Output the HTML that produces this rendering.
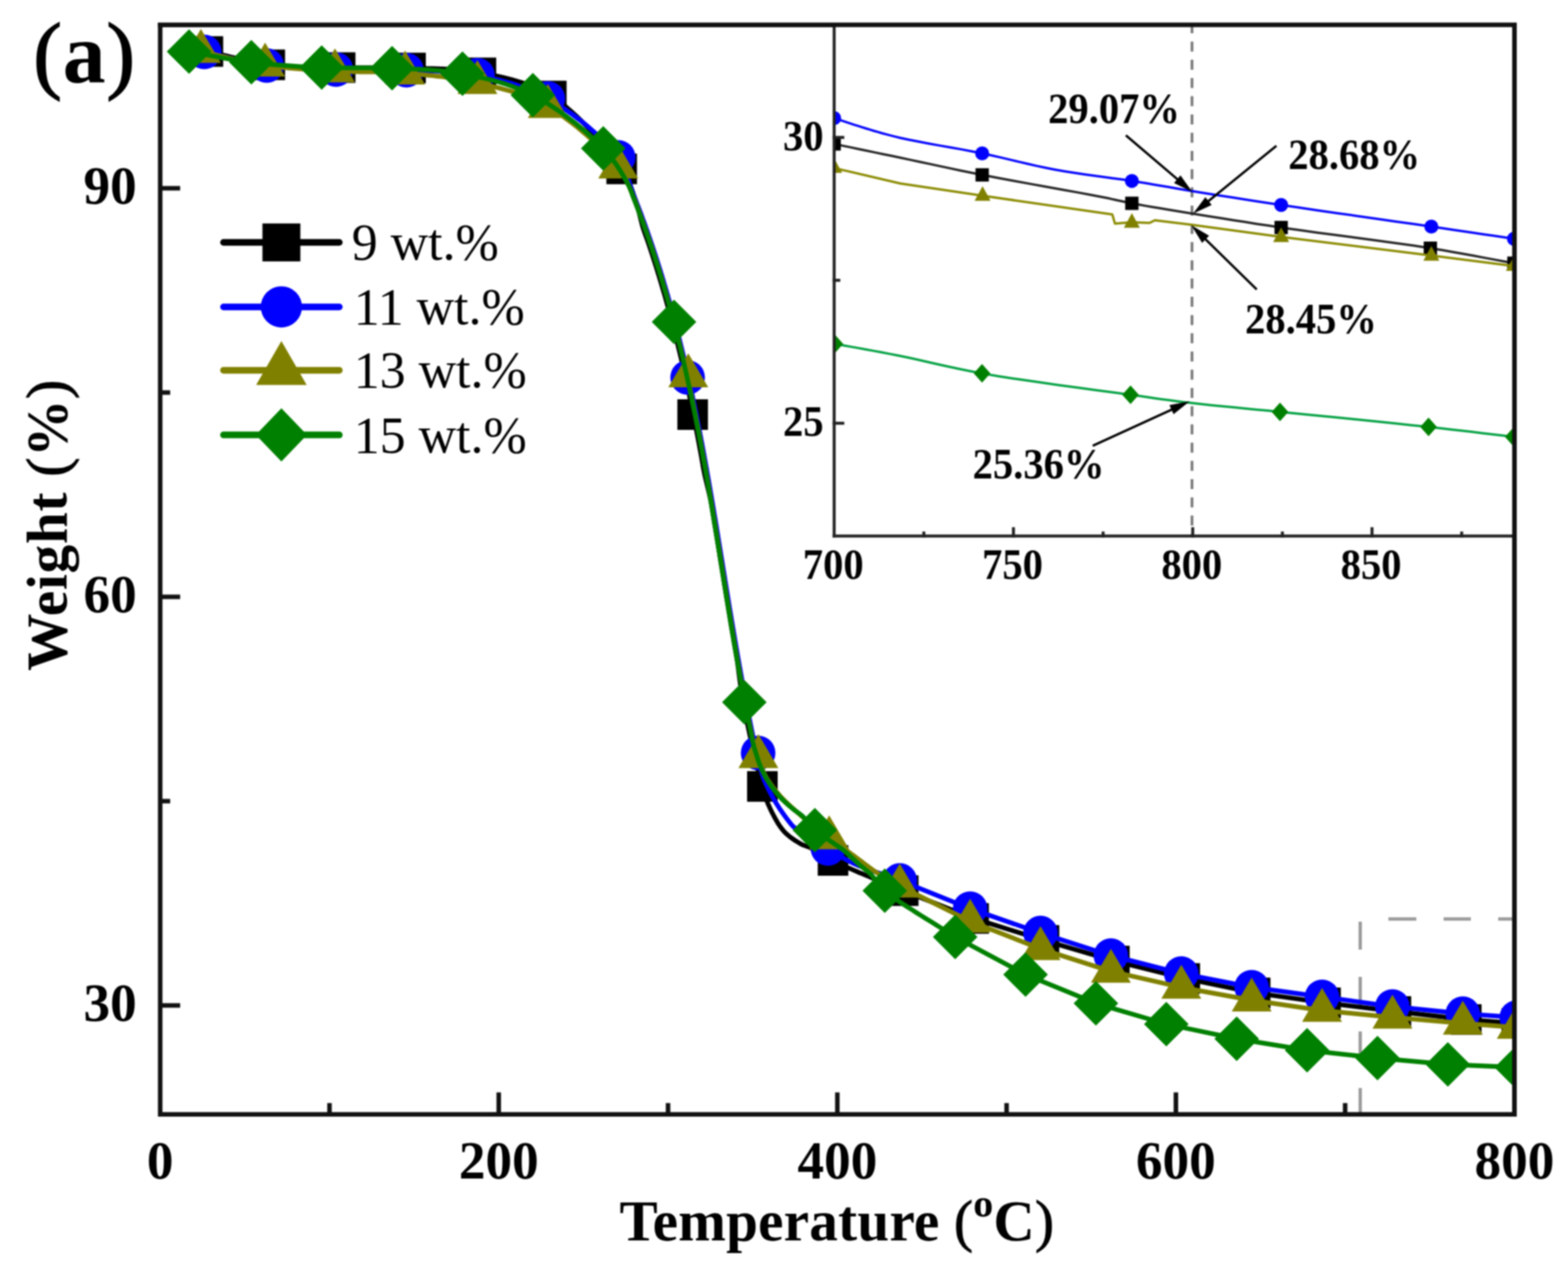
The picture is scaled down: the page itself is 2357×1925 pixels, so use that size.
<!DOCTYPE html><html><head><meta charset="utf-8"><style>
html,body{margin:0;padding:0;background:#fff;}
svg{display:block;filter:blur(0.8px);}
text{font-family:"Liberation Serif","Times New Roman",serif;}
</style></head><body>
<svg xmlns="http://www.w3.org/2000/svg" width="2357" height="1925" viewBox="0 0 2357 1925">
<rect width="2357" height="1925" fill="#fff"/>
<defs><clipPath id="cm"><rect x="240.8" y="37.3" width="2035.7" height="1637.3"/></clipPath>
<clipPath id="ci"><rect x="1253.9" y="36.8" width="1022.6" height="768.7"/></clipPath></defs>
<g stroke="#9a9a9a" stroke-width="5" fill="none">
<line x1="2044.7" y1="1385" x2="2044.7" y2="1427"/>
<line x1="2044.7" y1="1468" x2="2044.7" y2="1510"/>
<line x1="2044.7" y1="1550" x2="2044.7" y2="1592"/>
<line x1="2044.7" y1="1635" x2="2044.7" y2="1673"/>
<line x1="2087" y1="1381" x2="2129" y2="1381"/>
<line x1="2170" y1="1381" x2="2211" y2="1381"/>
<line x1="2252" y1="1381" x2="2275" y2="1381"/>
</g>
<g clip-path="url(#cm)" fill="none" stroke-width="7" stroke-linejoin="round" stroke-linecap="round">
<polyline points="312.5,77.4 318.3,78.7 324.1,80.0 329.8,81.4 335.6,82.8 341.3,84.2 347.1,85.6 352.8,87.0 358.6,88.4 364.3,89.7 370.1,91.0 375.9,92.3 381.8,93.5 387.6,94.6 393.5,95.6 399.5,96.6 405.5,97.4 411.9,98.1 418.3,98.8 424.8,99.3 431.4,99.8 438.0,100.1 444.6,100.4 451.2,100.6 457.9,100.8 464.6,100.9 471.3,101.1 478.0,101.1 484.7,101.2 491.3,101.3 498.0,101.4 504.7,101.5 511.3,101.6 517.9,101.7 524.5,101.8 531.1,101.8 537.8,101.8 544.4,101.8 551.0,101.8 557.6,101.8 564.2,101.7 570.8,101.7 577.4,101.6 584.0,101.6 590.7,101.7 597.3,101.7 603.9,101.8 610.5,102.0 617.1,102.2 623.7,102.4 630.3,102.6 637.0,102.8 643.6,102.9 650.3,103.1 656.9,103.3 663.5,103.5 670.2,103.8 676.8,104.1 683.4,104.5 690.0,105.0 696.6,105.7 703.2,106.4 709.8,107.3 716.4,108.3 722.9,109.5 729.6,110.8 736.3,112.2 743.1,113.5 749.9,115.0 756.6,116.5 763.4,118.1 770.1,119.9 776.8,121.8 783.5,123.8 790.2,126.1 796.8,128.5 803.3,131.1 809.8,134.0 816.2,137.2 822.5,140.6 828.7,144.3 836.0,149.2 843.5,154.7 851.0,160.8 858.6,167.3 866.2,174.3 873.7,181.6 881.1,189.1 888.4,196.7 895.4,204.5 902.2,212.2 908.7,219.8 914.8,227.3 920.5,234.5 925.7,241.4 930.4,247.8 934.5,253.8 936.6,257.0 938.5,260.2 940.3,263.2 941.9,266.2 943.4,269.2 944.7,272.1 946.0,274.9 947.1,277.7 948.2,280.5 949.2,283.3 950.2,286.0 951.2,288.8 952.1,291.6 953.0,294.3 954.0,297.2 955.0,300.0 955.9,302.7 956.8,305.4 957.6,308.2 958.4,311.0 959.2,313.8 959.9,316.5 960.7,319.3 961.3,322.1 962.0,324.8 962.7,327.5 963.3,330.2 964.0,332.8 964.6,335.3 965.3,337.7 965.9,340.1 966.6,342.3 967.1,343.9 967.6,345.4 968.1,346.8 968.6,348.2 969.0,349.6 969.5,351.0 970.0,352.3 970.4,353.6 970.9,354.9 971.4,356.1 971.8,357.4 972.3,358.7 972.8,360.0 973.2,361.3 973.7,362.6 974.1,363.9 974.6,365.3 975.1,366.6 975.5,368.0 976.0,369.3 976.4,370.7 976.9,372.0 977.3,373.4 977.8,374.7 978.2,376.1 978.7,377.4 979.1,378.8 979.6,380.1 980.0,381.5 980.5,382.8 980.9,384.2 981.3,385.5 981.8,386.9 982.2,388.2 982.6,389.6 983.1,390.9 983.5,392.3 983.9,393.6 984.4,395.0 984.8,396.3 985.2,397.7 985.7,399.0 986.1,400.4 986.5,401.7 986.9,403.1 987.4,404.4 987.8,405.8 988.2,407.1 988.6,408.5 989.0,409.8 989.4,411.2 989.9,412.5 990.3,413.9 990.7,415.2 991.1,416.6 991.5,417.9 991.9,419.3 992.3,420.6 992.7,422.0 993.1,423.3 993.5,424.7 993.9,426.0 994.3,427.4 994.7,428.7 995.1,430.1 995.5,431.4 995.9,432.8 996.3,434.1 996.7,435.5 997.1,436.8 997.5,438.2 997.9,439.5 998.3,440.9 998.7,442.2 999.1,443.6 999.5,444.9 999.9,446.3 1000.2,447.6 1000.6,449.0 1001.0,450.3 1001.4,451.7 1001.8,453.0 1002.1,454.4 1002.5,455.7 1002.9,457.1 1003.3,458.4 1003.7,459.8 1004.0,461.1 1004.4,462.5 1004.8,463.8 1005.1,465.2 1005.5,466.5 1005.9,467.9 1006.2,469.2 1006.6,470.6 1007.0,471.9 1007.3,473.3 1007.7,474.6 1008.1,476.0 1008.4,477.3 1008.8,478.7 1009.1,480.0 1009.5,481.4 1009.9,482.7 1010.2,484.1 1010.6,485.4 1010.9,486.8 1011.3,488.1 1011.6,489.5 1012.0,490.8 1012.3,492.2 1012.7,493.5 1013.0,494.9 1013.4,496.2 1013.7,497.6 1014.1,498.9 1014.4,500.3 1014.8,501.6 1015.1,503.0 1015.4,504.3 1015.8,505.7 1016.1,507.0 1016.5,508.4 1016.8,509.7 1017.1,511.1 1017.5,512.4 1017.8,513.8 1018.1,515.1 1018.5,516.5 1018.8,517.8 1019.1,519.2 1019.5,520.5 1019.8,521.9 1020.1,523.2 1020.5,524.6 1020.8,525.9 1021.1,527.3 1021.4,528.6 1021.8,530.0 1022.1,531.3 1022.4,532.7 1022.7,534.0 1023.1,535.4 1023.4,536.7 1023.7,538.1 1024.0,539.4 1024.3,540.8 1024.6,542.1 1025.0,543.5 1025.3,544.8 1025.6,546.2 1025.9,547.5 1026.2,548.9 1026.5,550.2 1026.8,551.6 1027.1,552.9 1027.5,554.3 1027.8,555.6 1028.1,557.0 1028.4,558.3 1028.7,559.7 1029.0,561.0 1029.3,562.4 1029.6,563.7 1029.9,565.1 1030.2,566.4 1030.5,567.8 1030.8,569.1 1031.1,570.5 1031.4,571.8 1031.7,573.2 1032.0,574.5 1032.3,575.9 1032.6,577.2 1032.9,578.6 1033.2,579.9 1033.5,581.3 1033.8,582.6 1034.0,584.0 1034.3,585.3 1034.6,586.7 1034.9,588.0 1035.2,589.4 1035.5,590.7 1035.8,592.1 1036.1,593.4 1036.4,594.8 1036.6,596.1 1036.9,597.5 1037.2,598.8 1037.5,600.2 1037.8,601.5 1038.1,602.9 1038.3,604.2 1038.6,605.6 1038.9,606.9 1039.2,608.3 1039.5,609.6 1039.7,611.0 1040.0,612.3 1040.3,613.7 1040.6,615.0 1040.8,616.4 1041.1,617.7 1041.4,619.1 1041.7,620.4 1041.9,621.8 1042.2,623.1 1042.5,624.5 1042.8,625.8 1043.0,627.2 1043.3,628.5 1043.6,629.9 1043.8,631.2 1044.1,632.6 1044.4,633.9 1044.6,635.3 1044.9,636.6 1045.2,638.0 1045.4,639.3 1045.7,640.7 1046.0,642.0 1046.2,643.4 1046.5,644.7 1046.7,646.1 1047.0,647.4 1047.3,648.8 1047.5,650.1 1047.8,651.5 1048.0,652.8 1048.3,654.2 1048.6,655.5 1048.8,656.9 1049.1,658.2 1049.3,659.6 1049.6,660.9 1049.8,662.3 1050.1,663.6 1050.4,665.0 1050.6,666.3 1050.9,667.7 1051.1,669.0 1051.4,670.4 1051.6,671.7 1051.9,673.1 1052.1,674.4 1052.4,675.8 1052.6,677.1 1052.9,678.5 1053.1,679.8 1053.4,681.2 1053.6,682.5 1053.9,683.9 1054.1,685.2 1054.4,686.6 1054.6,687.9 1054.8,689.3 1055.1,690.6 1055.3,691.9 1055.5,693.2 1055.7,694.5 1056.0,695.7 1056.2,697.0 1056.4,698.3 1056.6,699.6 1056.8,700.9 1057.1,702.3 1057.3,703.6 1057.6,705.1 1057.9,706.5 1058.2,708.0 1058.5,709.6 1059.0,711.9 1059.5,714.3 1060.1,717.0 1060.7,719.7 1061.4,722.5 1062.1,725.3 1062.8,728.2 1063.5,731.2 1064.2,734.1 1064.9,737.0 1065.6,739.8 1066.2,742.6 1066.9,745.4 1067.4,748.0 1068.0,750.4 1068.5,752.8 1068.8,754.3 1069.0,755.8 1069.3,757.3 1069.6,758.7 1069.8,760.0 1070.0,761.4 1070.2,762.7 1070.4,764.0 1070.6,765.3 1070.8,766.6 1071.0,767.9 1071.2,769.1 1071.4,770.4 1071.6,771.7 1071.9,773.0 1072.1,774.4 1072.3,775.7 1072.5,777.1 1072.8,778.4 1073.0,779.8 1073.2,781.1 1073.4,782.5 1073.6,783.8 1073.9,785.2 1074.1,786.5 1074.3,787.9 1074.5,789.2 1074.8,790.6 1075.0,791.9 1075.2,793.3 1075.4,794.6 1075.6,796.0 1075.9,797.3 1076.1,798.7 1076.3,800.0 1076.5,801.4 1076.8,802.7 1077.0,804.1 1077.2,805.4 1077.4,806.8 1077.6,808.1 1077.9,809.5 1078.1,810.8 1078.3,812.2 1078.5,813.5 1078.7,814.9 1079.0,816.2 1079.2,817.6 1079.4,818.9 1079.6,820.3 1079.8,821.6 1080.1,823.0 1080.3,824.3 1080.5,825.7 1080.7,827.0 1080.9,828.4 1081.2,829.7 1081.4,831.1 1081.6,832.4 1081.8,833.8 1082.0,835.1 1082.2,836.5 1082.5,837.8 1082.7,839.2 1082.9,840.5 1083.1,841.9 1083.3,843.2 1083.6,844.6 1083.8,845.9 1084.0,847.3 1084.2,848.6 1084.4,850.0 1084.6,851.3 1084.9,852.7 1085.1,854.0 1085.3,855.4 1085.5,856.7 1085.7,858.1 1086.0,859.4 1086.2,860.8 1086.4,862.1 1086.6,863.5 1086.8,864.8 1087.1,866.2 1087.3,867.5 1087.5,868.9 1087.7,870.2 1087.9,871.6 1088.1,872.9 1088.4,874.3 1088.6,875.6 1088.8,877.0 1089.0,878.3 1089.2,879.7 1089.5,881.0 1089.7,882.4 1089.9,883.7 1090.1,885.1 1090.3,886.4 1090.6,887.8 1090.8,889.1 1091.0,890.5 1091.2,891.8 1091.4,893.2 1091.7,894.5 1091.9,895.9 1092.1,897.2 1092.3,898.6 1092.5,899.9 1092.8,901.3 1093.0,902.6 1093.2,904.0 1093.4,905.3 1093.6,906.7 1093.9,908.0 1094.1,909.4 1094.3,910.7 1094.5,912.1 1094.7,913.4 1095.0,914.8 1095.2,916.1 1095.4,917.5 1095.6,918.8 1095.9,920.2 1096.1,921.5 1096.3,922.9 1096.5,924.2 1096.8,925.6 1097.0,926.9 1097.2,928.3 1097.4,929.6 1097.6,931.0 1097.9,932.3 1098.1,933.7 1098.3,935.0 1098.5,936.4 1098.8,937.7 1099.0,939.1 1099.2,940.4 1099.4,941.8 1099.7,943.1 1099.9,944.5 1100.1,945.8 1100.4,947.2 1100.6,948.5 1100.8,949.9 1101.0,951.2 1101.3,952.6 1101.5,953.9 1101.7,955.3 1102.0,956.6 1102.2,958.0 1102.4,959.3 1102.6,960.7 1102.9,962.0 1103.1,963.4 1103.3,964.7 1103.6,966.1 1103.8,967.4 1104.0,968.8 1104.3,970.1 1104.5,971.4 1104.7,972.7 1104.9,974.0 1105.2,975.3 1105.4,976.5 1105.6,977.8 1105.9,979.1 1106.1,980.4 1106.3,981.7 1106.6,983.1 1106.8,984.4 1107.0,985.8 1107.3,987.3 1107.5,988.8 1107.8,990.4 1108.1,992.7 1108.5,995.2 1108.9,997.8 1109.2,1000.4 1109.6,1003.1 1110.0,1005.9 1110.3,1008.8 1110.7,1011.7 1111.1,1014.6 1111.5,1017.6 1111.9,1020.5 1112.3,1023.5 1112.7,1026.4 1113.1,1029.3 1113.6,1032.2 1114.0,1035.0 1114.4,1037.8 1114.9,1040.6 1115.4,1043.4 1115.8,1046.2 1116.3,1049.0 1116.8,1051.8 1117.3,1054.6 1117.7,1057.4 1118.2,1060.2 1118.8,1063.0 1119.3,1065.8 1119.8,1068.6 1120.3,1071.4 1120.9,1074.3 1121.4,1077.1 1122.0,1080.0 1122.6,1083.1 1123.2,1086.1 1123.9,1089.2 1124.5,1092.3 1125.2,1095.4 1125.9,1098.5 1126.5,1101.7 1127.2,1104.8 1127.9,1107.9 1128.6,1111.1 1129.3,1114.2 1130.1,1117.4 1130.8,1120.5 1131.5,1123.7 1132.3,1126.9 1133.0,1130.0 1133.8,1133.2 1134.5,1136.6 1135.3,1139.9 1136.1,1143.3 1137.0,1146.7 1137.8,1150.1 1138.6,1153.5 1139.4,1156.9 1140.3,1160.2 1141.1,1163.5 1141.9,1166.8 1142.8,1170.0 1143.6,1173.1 1144.4,1176.1 1145.2,1179.0 1146.0,1181.8 1146.6,1183.8 1147.1,1185.7 1147.6,1187.5 1148.1,1189.3 1148.6,1191.0 1149.1,1192.7 1149.6,1194.4 1150.1,1196.1 1150.6,1197.7 1151.2,1199.3 1151.7,1201.0 1152.3,1202.6 1153.0,1204.3 1153.7,1206.0 1154.4,1207.8 1155.2,1209.6 1156.3,1211.9 1157.4,1214.4 1158.6,1216.9 1159.8,1219.5 1161.1,1222.1 1162.5,1224.7 1163.9,1227.4 1165.3,1230.0 1166.8,1232.6 1168.3,1235.2 1169.8,1237.7 1171.4,1240.1 1173.0,1242.5 1174.7,1244.7 1176.3,1246.8 1178.0,1248.8 1179.4,1250.4 1180.9,1251.9 1182.5,1253.3 1184.1,1254.7 1185.7,1256.1 1187.3,1257.4 1189.0,1258.7 1190.7,1259.9 1192.3,1261.0 1194.0,1262.2 1195.6,1263.2 1197.3,1264.3 1198.9,1265.2 1200.4,1266.2 1201.9,1267.1 1203.4,1267.9 1204.4,1268.5 1205.4,1269.0 1206.3,1269.4 1207.3,1269.8 1208.2,1270.2 1209.1,1270.5 1209.9,1270.8 1210.8,1271.1 1211.7,1271.5 1212.6,1271.8 1213.5,1272.1 1214.5,1272.4 1215.5,1272.8 1216.5,1273.2 1217.5,1273.7 1218.6,1274.2 1220.4,1275.1 1222.2,1276.1 1224.2,1277.1 1226.2,1278.2 1228.3,1279.4 1230.4,1280.6 1232.6,1281.9 1234.8,1283.2 1237.0,1284.5 1239.3,1285.8 1241.5,1287.1 1243.7,1288.4 1245.9,1289.6 1248.1,1290.8 1250.2,1291.9 1252.2,1293.0 1253.9,1293.9 1255.6,1294.7 1257.2,1295.6 1258.8,1296.4 1260.4,1297.1 1261.9,1297.9 1263.5,1298.6 1265.0,1299.4 1266.6,1300.1 1268.2,1300.9 1269.9,1301.6 1271.6,1302.4 1273.4,1303.2 1275.3,1304.1 1277.3,1305.0 1279.4,1305.9 1283.2,1307.6 1287.2,1309.3 1291.5,1311.2 1296.1,1313.1 1300.8,1315.1 1305.8,1317.1 1310.8,1319.2 1316.0,1321.3 1321.2,1323.4 1326.5,1325.6 1331.9,1327.8 1337.2,1330.0 1342.4,1332.1 1347.6,1334.2 1352.7,1336.3 1357.7,1338.4 1463.5,1380.2 1569.3,1413.2 1675.1,1444.2 1780.9,1470.4 1886.7,1492.1 1992.5,1507.0 2098.3,1520.0 2204.1,1532.1 2280.0,1538.0" stroke="#000000"/>
<g stroke="none">
<rect x="289.5" y="54.4" width="46.0" height="46.0" fill="#000000"/>
<rect x="382.5" y="74.4" width="46.0" height="46.0" fill="#000000"/>
<rect x="488.3" y="78.6" width="46.0" height="46.0" fill="#000000"/>
<rect x="594.1" y="79.2" width="46.0" height="46.0" fill="#000000"/>
<rect x="699.9" y="86.5" width="46.0" height="46.0" fill="#000000"/>
<rect x="805.7" y="121.3" width="46.0" height="46.0" fill="#000000"/>
<rect x="911.5" y="230.8" width="46.0" height="46.0" fill="#000000"/>
<rect x="1018.2" y="600.0" width="46.0" height="46.0" fill="#000000"/>
<rect x="1123.0" y="1158.8" width="46.0" height="46.0" fill="#000000"/>
<rect x="1229.2" y="1270.0" width="46.0" height="46.0" fill="#000000"/>
<rect x="1334.7" y="1315.4" width="46.0" height="46.0" fill="#000000"/>
<rect x="1440.5" y="1357.2" width="46.0" height="46.0" fill="#000000"/>
<rect x="1546.3" y="1390.2" width="46.0" height="46.0" fill="#000000"/>
<rect x="1652.1" y="1421.2" width="46.0" height="46.0" fill="#000000"/>
<rect x="1757.9" y="1447.4" width="46.0" height="46.0" fill="#000000"/>
<rect x="1863.7" y="1469.1" width="46.0" height="46.0" fill="#000000"/>
<rect x="1969.5" y="1484.0" width="46.0" height="46.0" fill="#000000"/>
<rect x="2075.3" y="1497.0" width="46.0" height="46.0" fill="#000000"/>
<rect x="2181.1" y="1509.1" width="46.0" height="46.0" fill="#000000"/>
<rect x="2257.0" y="1515.0" width="46.0" height="46.0" fill="#000000"/>
</g>
<polyline points="307.0,78.0 312.9,79.3 318.7,80.7 324.5,82.0 330.4,83.5 336.2,84.9 342.0,86.3 347.8,87.7 353.6,89.2 359.5,90.5 365.3,91.9 371.2,93.2 377.1,94.4 383.0,95.5 389.0,96.6 395.0,97.6 401.0,98.5 407.3,99.3 413.7,100.0 420.1,100.7 426.5,101.2 433.0,101.7 439.5,102.1 446.0,102.5 452.5,102.8 459.1,103.1 465.6,103.3 472.2,103.5 478.8,103.7 485.3,103.9 491.9,104.1 498.5,104.3 505.0,104.5 511.6,104.7 518.2,104.8 524.8,104.9 531.4,105.0 538.0,105.0 544.7,105.0 551.3,104.9 557.9,104.9 564.6,104.9 571.2,104.9 577.8,104.9 584.5,104.9 591.1,105.0 597.7,105.1 604.4,105.3 611.0,105.5 617.7,105.7 624.3,105.9 631.0,106.1 637.7,106.3 644.4,106.5 651.1,106.7 657.8,106.9 664.5,107.2 671.2,107.5 677.9,108.0 684.6,108.5 691.2,109.1 697.9,109.9 704.5,110.7 711.1,111.8 717.7,113.0 724.4,114.4 731.1,115.8 737.9,117.3 744.6,118.8 751.3,120.5 758.0,122.3 764.7,124.1 771.4,126.1 778.1,128.3 784.7,130.6 791.3,133.0 797.8,135.6 804.3,138.4 810.8,141.4 817.2,144.6 823.5,148.0 830.6,152.1 837.9,156.6 845.3,161.4 852.8,166.6 860.4,171.9 867.9,177.6 875.3,183.3 882.6,189.3 889.6,195.3 896.5,201.3 903.0,207.4 909.2,213.4 915.0,219.4 920.3,225.2 925.1,230.9 929.3,236.4 931.8,240.0 934.0,243.6 936.0,247.2 937.8,250.9 939.4,254.5 940.9,258.2 942.3,261.9 943.5,265.5 944.7,269.0 945.7,272.6 946.8,276.0 947.8,279.4 948.8,282.7 949.8,285.9 950.9,289.0 952.0,292.0 952.8,294.1 953.6,296.1 954.4,298.0 955.2,299.9 955.9,301.8 956.6,303.6 957.3,305.4 958.0,307.2 958.7,308.9 959.4,310.6 960.0,312.3 960.7,314.0 961.3,315.7 962.0,317.4 962.6,319.0 963.2,320.7 963.8,322.1 964.3,323.5 964.8,324.9 965.3,326.3 965.8,327.7 966.3,329.0 966.8,330.4 967.3,331.7 967.8,333.0 968.3,334.3 968.7,335.7 969.2,337.0 969.7,338.3 970.2,339.6 970.6,341.0 971.1,342.3 971.6,343.7 972.1,345.0 972.6,346.4 973.0,347.7 973.5,349.1 974.0,350.4 974.5,351.8 974.9,353.1 975.4,354.5 975.9,355.8 976.3,357.2 976.8,358.5 977.3,359.9 977.7,361.2 978.2,362.6 978.6,363.9 979.1,365.3 979.6,366.6 980.0,368.0 980.5,369.3 980.9,370.7 981.4,372.0 981.8,373.4 982.3,374.7 982.7,376.1 983.2,377.4 983.6,378.8 984.1,380.1 984.5,381.5 985.0,382.8 985.4,384.2 985.8,385.5 986.3,386.9 986.7,388.2 987.1,389.6 987.6,390.9 988.0,392.3 988.4,393.6 988.9,395.0 989.3,396.3 989.7,397.7 990.2,399.0 990.6,400.4 991.0,401.7 991.4,403.1 991.9,404.4 992.3,405.8 992.7,407.1 993.1,408.5 993.5,409.8 993.9,411.2 994.4,412.5 994.8,413.9 995.2,415.2 995.6,416.6 996.0,417.9 996.4,419.3 996.8,420.6 997.2,422.0 997.6,423.3 998.0,424.7 998.4,426.0 998.8,427.4 999.2,428.7 999.6,430.1 1000.0,431.4 1000.4,432.8 1000.8,434.1 1001.2,435.5 1001.6,436.8 1002.0,438.2 1002.4,439.5 1002.8,440.9 1003.2,442.2 1003.6,443.6 1004.0,444.9 1004.4,446.3 1004.7,447.6 1005.1,449.0 1005.5,450.3 1005.9,451.7 1006.3,453.0 1006.6,454.4 1007.0,455.7 1007.4,457.1 1007.8,458.4 1008.2,459.8 1008.5,461.1 1008.9,462.5 1009.3,463.8 1009.6,465.2 1010.0,466.5 1010.4,467.9 1010.7,469.2 1011.1,470.6 1011.5,471.9 1011.8,473.3 1012.2,474.6 1012.6,476.0 1012.9,477.3 1013.3,478.7 1013.6,480.0 1014.0,481.4 1014.4,482.7 1014.7,484.1 1015.1,485.4 1015.4,486.8 1015.8,488.1 1016.1,489.5 1016.5,490.8 1016.8,492.2 1017.2,493.5 1017.5,494.9 1017.9,496.2 1018.2,497.6 1018.6,498.9 1018.9,500.3 1019.3,501.6 1019.6,503.0 1019.9,504.3 1020.3,505.7 1020.6,507.0 1021.0,508.4 1021.3,509.7 1021.6,511.1 1022.0,512.4 1022.3,513.8 1022.6,515.1 1023.0,516.5 1023.3,517.8 1023.6,519.2 1024.0,520.5 1024.3,521.9 1024.6,523.2 1025.0,524.6 1025.3,525.9 1025.6,527.3 1025.9,528.6 1026.3,530.0 1026.6,531.3 1026.9,532.7 1027.2,534.0 1027.6,535.4 1027.9,536.7 1028.2,538.1 1028.5,539.4 1028.8,540.8 1029.1,542.1 1029.5,543.5 1029.8,544.8 1030.1,546.2 1030.4,547.5 1030.7,548.9 1031.0,550.2 1031.3,551.6 1031.6,552.9 1032.0,554.3 1032.3,555.6 1032.6,557.0 1032.9,558.3 1033.2,559.7 1033.5,561.0 1033.8,562.4 1034.1,563.7 1034.4,565.1 1034.7,566.4 1035.0,567.8 1035.3,569.1 1035.6,570.5 1035.9,571.8 1036.2,573.2 1036.5,574.5 1036.8,575.9 1037.1,577.2 1037.4,578.6 1037.7,579.9 1038.0,581.3 1038.3,582.6 1038.5,584.0 1038.8,585.3 1039.1,586.7 1039.4,588.0 1039.7,589.4 1040.0,590.7 1040.3,592.1 1040.6,593.4 1040.9,594.8 1041.1,596.1 1041.4,597.5 1041.7,598.8 1042.0,600.2 1042.3,601.5 1042.6,602.9 1042.8,604.2 1043.1,605.6 1043.4,606.9 1043.7,608.3 1044.0,609.6 1044.2,611.0 1044.5,612.3 1044.8,613.7 1045.1,615.0 1045.3,616.4 1045.6,617.7 1045.9,619.1 1046.2,620.4 1046.4,621.8 1046.7,623.1 1047.0,624.5 1047.3,625.8 1047.5,627.2 1047.8,628.5 1048.1,629.9 1048.3,631.2 1048.6,632.6 1048.9,633.9 1049.1,635.3 1049.4,636.6 1049.7,638.0 1049.9,639.3 1050.2,640.7 1050.5,642.0 1050.7,643.4 1051.0,644.7 1051.2,646.1 1051.5,647.4 1051.8,648.8 1052.0,650.1 1052.3,651.5 1052.5,652.8 1052.8,654.2 1053.1,655.5 1053.3,656.9 1053.6,658.2 1053.8,659.6 1054.1,660.9 1054.3,662.3 1054.6,663.6 1054.9,665.0 1055.1,666.3 1055.4,667.7 1055.6,669.0 1055.9,670.4 1056.1,671.7 1056.4,673.1 1056.6,674.4 1056.9,675.8 1057.1,677.1 1057.4,678.5 1057.6,679.8 1057.9,681.2 1058.1,682.5 1058.4,683.9 1058.6,685.2 1058.9,686.6 1059.1,687.9 1059.3,689.3 1059.6,690.6 1059.8,692.0 1060.1,693.3 1060.3,694.7 1060.6,696.0 1060.8,697.4 1061.1,698.7 1061.3,700.1 1061.5,701.4 1061.8,702.8 1062.0,704.1 1062.3,705.5 1062.5,706.9 1062.7,708.2 1063.0,709.6 1063.2,710.9 1063.5,712.3 1063.7,713.6 1063.9,715.0 1064.2,716.3 1064.4,717.7 1064.6,719.0 1064.9,720.4 1065.1,721.7 1065.4,723.1 1065.6,724.4 1065.8,725.8 1066.1,727.1 1066.3,728.5 1066.5,729.8 1066.8,731.2 1067.0,732.5 1067.2,733.9 1067.5,735.2 1067.7,736.6 1067.9,737.9 1068.2,739.3 1068.4,740.6 1068.6,742.0 1068.8,743.3 1069.1,744.7 1069.3,746.0 1069.5,747.4 1069.8,748.7 1070.0,750.1 1070.2,751.4 1070.5,752.8 1070.7,754.1 1070.9,755.5 1071.1,756.8 1071.4,758.2 1071.6,759.5 1071.8,760.9 1072.0,762.2 1072.3,763.6 1072.5,764.9 1072.7,766.3 1073.0,767.6 1073.2,769.0 1073.4,770.3 1073.6,771.7 1073.9,773.0 1074.1,774.4 1074.3,775.7 1074.5,777.1 1074.8,778.4 1075.0,779.8 1075.2,781.1 1075.4,782.5 1075.6,783.8 1075.9,785.2 1076.1,786.5 1076.3,787.9 1076.5,789.2 1076.8,790.6 1077.0,791.9 1077.2,793.3 1077.4,794.6 1077.6,796.0 1077.9,797.3 1078.1,798.7 1078.3,800.0 1078.5,801.4 1078.8,802.7 1079.0,804.1 1079.2,805.4 1079.4,806.8 1079.6,808.1 1079.9,809.5 1080.1,810.8 1080.3,812.2 1080.5,813.5 1080.7,814.9 1081.0,816.2 1081.2,817.6 1081.4,818.9 1081.6,820.3 1081.8,821.6 1082.1,823.0 1082.3,824.3 1082.5,825.7 1082.7,827.0 1082.9,828.4 1083.2,829.7 1083.4,831.1 1083.6,832.4 1083.8,833.8 1084.0,835.1 1084.2,836.5 1084.5,837.8 1084.7,839.2 1084.9,840.5 1085.1,841.9 1085.3,843.2 1085.6,844.6 1085.8,845.9 1086.0,847.3 1086.2,848.6 1086.4,850.0 1086.6,851.3 1086.9,852.7 1087.1,854.0 1087.3,855.4 1087.5,856.7 1087.7,858.1 1088.0,859.4 1088.2,860.8 1088.4,862.1 1088.6,863.5 1088.8,864.8 1089.1,866.2 1089.3,867.5 1089.5,868.9 1089.7,870.2 1089.9,871.6 1090.1,872.9 1090.4,874.3 1090.6,875.6 1090.8,877.0 1091.0,878.3 1091.2,879.7 1091.5,881.0 1091.7,882.4 1091.9,883.7 1092.1,885.1 1092.3,886.4 1092.6,887.8 1092.8,889.1 1093.0,890.5 1093.2,891.8 1093.4,893.2 1093.7,894.5 1093.9,895.9 1094.1,897.2 1094.3,898.6 1094.5,899.9 1094.8,901.3 1095.0,902.6 1095.2,904.0 1095.4,905.3 1095.6,906.7 1095.9,908.0 1096.1,909.4 1096.3,910.7 1096.5,912.1 1096.7,913.4 1097.0,914.8 1097.2,916.1 1097.4,917.5 1097.6,918.8 1097.9,920.2 1098.1,921.5 1098.3,922.9 1098.5,924.2 1098.8,925.6 1099.0,926.9 1099.2,928.3 1099.4,929.6 1099.6,931.0 1099.9,932.3 1100.1,933.7 1100.3,935.0 1100.5,936.4 1100.8,937.7 1101.0,939.1 1101.2,940.4 1101.4,941.8 1101.7,943.1 1101.9,944.5 1102.1,945.8 1102.4,947.2 1102.6,948.5 1102.8,949.9 1103.0,951.2 1103.3,952.6 1103.5,953.9 1103.7,955.3 1104.0,956.6 1104.2,958.0 1104.4,959.3 1104.6,960.7 1104.9,962.0 1105.1,963.4 1105.3,964.7 1105.6,966.1 1105.8,967.4 1106.0,968.8 1106.3,970.1 1106.5,971.5 1106.7,972.8 1107.0,974.2 1107.2,975.5 1107.4,976.9 1107.7,978.2 1107.9,979.6 1108.1,980.9 1108.4,982.3 1108.6,983.6 1108.8,985.0 1109.1,986.3 1109.3,987.7 1109.5,989.0 1109.8,990.4 1110.0,991.7 1110.3,993.1 1110.5,994.4 1110.7,995.8 1111.0,997.1 1111.2,998.5 1111.4,999.8 1111.7,1001.2 1111.9,1002.5 1112.2,1003.9 1112.4,1005.2 1112.7,1006.6 1112.9,1007.9 1113.1,1009.3 1113.4,1010.6 1113.6,1012.0 1113.9,1013.3 1114.1,1014.7 1114.4,1016.0 1114.6,1017.4 1114.8,1018.7 1115.1,1020.1 1115.3,1021.4 1115.6,1022.8 1115.8,1024.1 1116.1,1025.5 1116.3,1026.8 1116.6,1028.2 1116.8,1029.5 1117.1,1030.9 1117.3,1032.2 1117.6,1033.6 1117.8,1034.9 1118.1,1036.3 1118.3,1037.6 1118.6,1039.0 1118.8,1040.3 1119.1,1041.7 1119.3,1043.0 1119.6,1044.4 1119.9,1045.7 1120.1,1047.1 1120.4,1048.4 1120.6,1049.8 1120.9,1051.1 1121.1,1052.5 1121.4,1053.8 1121.7,1055.2 1121.9,1056.5 1122.2,1057.9 1122.4,1059.2 1122.7,1060.6 1123.0,1061.9 1123.2,1063.3 1123.5,1064.6 1123.8,1066.0 1124.0,1067.3 1124.3,1068.7 1124.5,1070.0 1124.8,1071.4 1125.1,1072.7 1125.3,1074.1 1125.6,1075.4 1125.9,1076.8 1126.1,1078.1 1126.4,1079.5 1126.7,1080.8 1127.0,1082.2 1127.2,1083.5 1127.5,1084.9 1127.8,1086.2 1128.0,1087.6 1128.3,1088.9 1128.6,1090.3 1128.9,1091.6 1129.1,1093.0 1129.4,1094.3 1129.7,1095.7 1130.0,1097.0 1130.3,1098.4 1130.5,1099.7 1130.8,1101.0 1131.1,1102.3 1131.3,1103.6 1131.6,1104.9 1131.8,1106.1 1132.1,1107.4 1132.3,1108.7 1132.6,1110.0 1132.9,1111.3 1133.1,1112.6 1133.4,1114.0 1133.8,1115.4 1134.1,1116.9 1134.4,1118.4 1134.8,1120.0 1135.4,1122.5 1136.0,1125.3 1136.7,1128.1 1137.3,1131.1 1138.0,1134.2 1138.7,1137.4 1139.5,1140.6 1140.3,1143.9 1141.1,1147.2 1141.9,1150.5 1142.8,1153.7 1143.7,1157.0 1144.6,1160.1 1145.6,1163.2 1146.6,1166.2 1147.6,1169.0 1148.5,1171.4 1149.5,1173.8 1150.5,1176.2 1151.5,1178.5 1152.6,1180.8 1153.7,1183.1 1154.8,1185.3 1155.9,1187.6 1157.0,1189.7 1158.2,1191.9 1159.3,1194.1 1160.5,1196.2 1161.7,1198.3 1162.9,1200.4 1164.1,1202.4 1165.3,1204.5 1166.4,1206.4 1167.6,1208.3 1168.8,1210.2 1170.0,1212.1 1171.2,1214.0 1172.5,1215.9 1173.7,1217.7 1175.0,1219.6 1176.2,1221.3 1177.5,1223.1 1178.7,1224.8 1179.9,1226.5 1181.1,1228.0 1182.2,1229.6 1183.3,1231.0 1184.4,1232.4 1185.1,1233.3 1185.7,1234.1 1186.3,1234.9 1186.8,1235.6 1187.4,1236.3 1187.9,1237.0 1188.4,1237.6 1188.9,1238.3 1189.5,1238.9 1190.1,1239.6 1190.7,1240.2 1191.3,1240.9 1192.0,1241.6 1192.8,1242.3 1193.6,1243.0 1194.5,1243.8 1196.5,1245.4 1198.9,1247.2 1201.5,1249.0 1204.4,1250.9 1207.5,1252.9 1210.7,1254.9 1214.1,1257.0 1217.5,1259.1 1221.1,1261.2 1224.6,1263.3 1228.2,1265.4 1231.7,1267.4 1235.1,1269.4 1238.4,1271.3 1241.5,1273.2 1244.5,1275.0 1246.8,1276.4 1249.0,1277.8 1251.2,1279.2 1253.3,1280.5 1255.3,1281.8 1257.4,1283.1 1259.4,1284.4 1261.4,1285.7 1263.4,1287.0 1265.5,1288.2 1267.6,1289.4 1269.8,1290.7 1272.0,1291.9 1274.4,1293.2 1276.8,1294.4 1279.4,1295.7 1283.2,1297.5 1287.2,1299.2 1291.3,1300.9 1295.7,1302.7 1300.1,1304.4 1304.7,1306.1 1309.4,1307.8 1314.2,1309.5 1319.0,1311.2 1323.8,1312.9 1328.7,1314.6 1333.6,1316.3 1338.4,1318.0 1343.2,1319.7 1347.9,1321.4 1352.5,1323.1 1458.3,1365.4 1564.1,1402.1 1669.9,1436.0 1775.7,1463.0 1881.5,1483.5 1987.3,1498.0 2093.1,1512.5 2198.9,1523.3 2280.0,1529.0" stroke="#0000ff"/>
<g stroke="none">
<circle cx="307.0" cy="78.0" r="26.0" fill="#0000ff"/>
<circle cx="401.0" cy="98.5" r="26.0" fill="#0000ff"/>
<circle cx="505.0" cy="104.5" r="26.0" fill="#0000ff"/>
<circle cx="611.0" cy="105.5" r="26.0" fill="#0000ff"/>
<circle cx="717.7" cy="113.0" r="26.0" fill="#0000ff"/>
<circle cx="823.5" cy="148.0" r="26.0" fill="#0000ff"/>
<circle cx="929.3" cy="236.4" r="26.0" fill="#0000ff"/>
<circle cx="1033.6" cy="567.2" r="26.0" fill="#0000ff"/>
<circle cx="1139.6" cy="1131.5" r="26.0" fill="#0000ff"/>
<circle cx="1244.5" cy="1275.0" r="26.0" fill="#0000ff"/>
<circle cx="1352.5" cy="1323.1" r="26.0" fill="#0000ff"/>
<circle cx="1458.3" cy="1365.4" r="26.0" fill="#0000ff"/>
<circle cx="1564.1" cy="1402.1" r="26.0" fill="#0000ff"/>
<circle cx="1669.9" cy="1436.0" r="26.0" fill="#0000ff"/>
<circle cx="1775.7" cy="1463.0" r="26.0" fill="#0000ff"/>
<circle cx="1881.5" cy="1483.5" r="26.0" fill="#0000ff"/>
<circle cx="1987.3" cy="1498.0" r="26.0" fill="#0000ff"/>
<circle cx="2093.1" cy="1512.5" r="26.0" fill="#0000ff"/>
<circle cx="2198.9" cy="1523.3" r="26.0" fill="#0000ff"/>
<circle cx="2280.0" cy="1529.0" r="26.0" fill="#0000ff"/>
</g>
<polyline points="302.0,77.5 308.0,78.8 314.0,80.1 320.0,81.5 326.0,82.9 332.0,84.3 338.0,85.7 343.9,87.1 349.9,88.5 355.9,89.9 361.9,91.2 368.0,92.5 374.0,93.7 380.1,94.9 386.2,96.0 392.3,97.0 398.5,98.0 404.9,98.9 411.4,99.7 417.8,100.5 424.4,101.2 430.9,101.8 437.5,102.4 444.0,103.0 450.6,103.5 457.2,104.0 463.9,104.4 470.5,104.8 477.1,105.2 483.7,105.6 490.3,106.0 496.9,106.3 503.5,106.7 510.1,107.0 516.7,107.3 523.2,107.5 529.8,107.7 536.4,107.8 543.0,107.9 549.6,107.9 556.2,108.0 562.7,108.1 569.3,108.2 575.9,108.4 582.5,108.6 589.1,108.8 595.8,109.1 602.4,109.5 609.0,110.0 615.8,110.6 622.6,111.1 629.4,111.7 636.2,112.3 643.0,112.9 649.8,113.6 656.7,114.4 663.5,115.1 670.3,116.0 677.2,116.9 684.0,117.9 690.8,119.0 697.5,120.2 704.3,121.4 711.0,122.8 717.7,124.3 724.4,125.9 731.2,127.5 737.9,129.1 744.7,130.8 751.4,132.5 758.1,134.3 764.8,136.2 771.5,138.2 778.2,140.4 784.8,142.6 791.3,145.1 797.9,147.7 804.4,150.5 810.8,153.5 817.2,156.7 823.5,160.2 830.6,164.4 837.9,169.1 845.3,174.2 852.8,179.6 860.3,185.2 867.8,191.1 875.1,197.2 882.4,203.4 889.4,209.7 896.2,216.0 902.8,222.2 909.0,228.4 914.8,234.4 920.1,240.3 925.0,245.9 929.3,251.2 931.7,254.4 933.9,257.6 936.0,260.8 937.9,264.1 939.7,267.3 941.3,270.4 942.8,273.6 944.2,276.7 945.6,279.7 946.8,282.8 948.0,285.7 949.2,288.6 950.3,291.3 951.3,294.0 952.4,296.6 953.5,299.1 954.2,300.7 954.8,302.2 955.4,303.6 956.0,305.1 956.5,306.4 957.0,307.8 957.5,309.1 958.0,310.4 958.5,311.7 958.9,312.9 959.4,314.2 959.8,315.5 960.3,316.8 960.8,318.1 961.2,319.4 961.7,320.7 962.2,322.1 962.7,323.4 963.2,324.8 963.7,326.1 964.2,327.4 964.7,328.8 965.2,330.1 965.7,331.5 966.2,332.8 966.7,334.2 967.2,335.6 967.7,336.9 968.2,338.3 968.6,339.6 969.1,341.0 969.6,342.3 970.1,343.7 970.6,345.0 971.1,346.4 971.5,347.7 972.0,349.1 972.5,350.4 973.0,351.8 973.4,353.1 973.9,354.5 974.4,355.8 974.8,357.2 975.3,358.5 975.8,359.9 976.2,361.2 976.7,362.6 977.1,363.9 977.6,365.3 978.1,366.6 978.5,368.0 979.0,369.3 979.4,370.7 979.9,372.0 980.3,373.4 980.8,374.7 981.2,376.1 981.7,377.4 982.1,378.8 982.6,380.1 983.0,381.5 983.5,382.8 983.9,384.2 984.3,385.5 984.8,386.9 985.2,388.2 985.6,389.6 986.1,390.9 986.5,392.3 986.9,393.6 987.4,395.0 987.8,396.3 988.2,397.7 988.7,399.0 989.1,400.4 989.5,401.7 989.9,403.1 990.4,404.4 990.8,405.8 991.2,407.1 991.6,408.5 992.0,409.8 992.4,411.2 992.9,412.5 993.3,413.9 993.7,415.2 994.1,416.6 994.5,417.9 994.9,419.3 995.3,420.6 995.7,422.0 996.1,423.3 996.5,424.7 996.9,426.0 997.3,427.4 997.7,428.7 998.1,430.1 998.5,431.4 998.9,432.8 999.3,434.1 999.7,435.5 1000.1,436.8 1000.5,438.2 1000.9,439.5 1001.3,440.9 1001.7,442.2 1002.1,443.6 1002.5,444.9 1002.9,446.3 1003.2,447.6 1003.6,449.0 1004.0,450.3 1004.4,451.7 1004.8,453.0 1005.1,454.4 1005.5,455.7 1005.9,457.1 1006.3,458.4 1006.7,459.8 1007.0,461.1 1007.4,462.5 1007.8,463.8 1008.1,465.2 1008.5,466.5 1008.9,467.9 1009.2,469.2 1009.6,470.6 1010.0,471.9 1010.3,473.3 1010.7,474.6 1011.1,476.0 1011.4,477.3 1011.8,478.7 1012.1,480.0 1012.5,481.4 1012.9,482.7 1013.2,484.1 1013.6,485.4 1013.9,486.8 1014.3,488.1 1014.6,489.5 1015.0,490.8 1015.3,492.2 1015.7,493.5 1016.0,494.9 1016.4,496.2 1016.7,497.6 1017.1,498.9 1017.4,500.3 1017.8,501.6 1018.1,503.0 1018.4,504.3 1018.8,505.7 1019.1,507.0 1019.5,508.4 1019.8,509.7 1020.1,511.1 1020.5,512.4 1020.8,513.8 1021.1,515.1 1021.5,516.5 1021.8,517.8 1022.1,519.2 1022.5,520.5 1022.8,521.9 1023.1,523.2 1023.5,524.6 1023.8,525.9 1024.1,527.3 1024.4,528.6 1024.8,530.0 1025.1,531.3 1025.4,532.7 1025.7,534.0 1026.1,535.4 1026.4,536.7 1026.7,538.1 1027.0,539.4 1027.3,540.8 1027.6,542.1 1028.0,543.5 1028.3,544.8 1028.6,546.2 1028.9,547.5 1029.2,548.9 1029.5,550.2 1029.8,551.6 1030.1,552.9 1030.5,554.3 1030.8,555.6 1031.1,557.0 1031.4,558.3 1031.7,559.7 1032.0,561.0 1032.3,562.4 1032.6,563.7 1032.9,565.1 1033.2,566.4 1033.5,567.8 1033.8,569.1 1034.1,570.5 1034.4,571.8 1034.7,573.2 1035.0,574.5 1035.3,575.9 1035.6,577.2 1035.9,578.6 1036.2,579.9 1036.5,581.3 1036.8,582.6 1037.0,584.0 1037.3,585.3 1037.6,586.7 1037.9,588.0 1038.2,589.4 1038.5,590.7 1038.8,592.1 1039.1,593.4 1039.4,594.8 1039.6,596.1 1039.9,597.5 1040.2,598.8 1040.5,600.2 1040.8,601.5 1041.1,602.9 1041.3,604.2 1041.6,605.6 1041.9,606.9 1042.2,608.3 1042.5,609.6 1042.7,611.0 1043.0,612.3 1043.3,613.7 1043.6,615.0 1043.8,616.4 1044.1,617.7 1044.4,619.1 1044.7,620.4 1044.9,621.8 1045.2,623.1 1045.5,624.5 1045.8,625.8 1046.0,627.2 1046.3,628.5 1046.6,629.9 1046.8,631.2 1047.1,632.6 1047.4,633.9 1047.6,635.3 1047.9,636.6 1048.2,638.0 1048.4,639.3 1048.7,640.7 1049.0,642.0 1049.2,643.4 1049.5,644.7 1049.7,646.1 1050.0,647.4 1050.3,648.8 1050.5,650.1 1050.8,651.5 1051.0,652.8 1051.3,654.2 1051.6,655.5 1051.8,656.9 1052.1,658.2 1052.3,659.6 1052.6,660.9 1052.8,662.3 1053.1,663.6 1053.4,665.0 1053.6,666.3 1053.9,667.7 1054.1,669.0 1054.4,670.4 1054.6,671.7 1054.9,673.1 1055.1,674.4 1055.4,675.8 1055.6,677.1 1055.9,678.5 1056.1,679.8 1056.4,681.2 1056.6,682.5 1056.9,683.9 1057.1,685.2 1057.4,686.6 1057.6,687.9 1057.8,689.3 1058.1,690.6 1058.3,692.0 1058.6,693.3 1058.8,694.7 1059.1,696.0 1059.3,697.4 1059.6,698.7 1059.8,700.1 1060.0,701.4 1060.3,702.8 1060.5,704.1 1060.8,705.5 1061.0,706.9 1061.2,708.2 1061.5,709.6 1061.7,710.9 1062.0,712.3 1062.2,713.6 1062.4,715.0 1062.7,716.3 1062.9,717.7 1063.1,719.0 1063.4,720.4 1063.6,721.7 1063.9,723.1 1064.1,724.4 1064.3,725.8 1064.6,727.1 1064.8,728.5 1065.0,729.8 1065.3,731.2 1065.5,732.5 1065.7,733.9 1066.0,735.2 1066.2,736.6 1066.4,737.9 1066.7,739.3 1066.9,740.6 1067.1,742.0 1067.3,743.3 1067.6,744.7 1067.8,746.0 1068.0,747.4 1068.3,748.7 1068.5,750.1 1068.7,751.4 1069.0,752.8 1069.2,754.1 1069.4,755.5 1069.6,756.8 1069.9,758.2 1070.1,759.5 1070.3,760.9 1070.5,762.2 1070.8,763.6 1071.0,764.9 1071.2,766.3 1071.5,767.6 1071.7,769.0 1071.9,770.3 1072.1,771.7 1072.4,773.0 1072.6,774.4 1072.8,775.7 1073.0,777.1 1073.3,778.4 1073.5,779.8 1073.7,781.1 1073.9,782.5 1074.1,783.8 1074.4,785.2 1074.6,786.5 1074.8,787.9 1075.0,789.2 1075.3,790.6 1075.5,791.9 1075.7,793.3 1075.9,794.6 1076.1,796.0 1076.4,797.3 1076.6,798.7 1076.8,800.0 1077.0,801.4 1077.3,802.7 1077.5,804.1 1077.7,805.4 1077.9,806.8 1078.1,808.1 1078.4,809.5 1078.6,810.8 1078.8,812.2 1079.0,813.5 1079.2,814.9 1079.5,816.2 1079.7,817.6 1079.9,818.9 1080.1,820.3 1080.3,821.6 1080.6,823.0 1080.8,824.3 1081.0,825.7 1081.2,827.0 1081.4,828.4 1081.7,829.7 1081.9,831.1 1082.1,832.4 1082.3,833.8 1082.5,835.1 1082.7,836.5 1083.0,837.8 1083.2,839.2 1083.4,840.5 1083.6,841.9 1083.8,843.2 1084.1,844.6 1084.3,845.9 1084.5,847.3 1084.7,848.6 1084.9,850.0 1085.1,851.3 1085.4,852.7 1085.6,854.0 1085.8,855.4 1086.0,856.7 1086.2,858.1 1086.5,859.4 1086.7,860.8 1086.9,862.1 1087.1,863.5 1087.3,864.8 1087.6,866.2 1087.8,867.5 1088.0,868.9 1088.2,870.2 1088.4,871.6 1088.6,872.9 1088.9,874.3 1089.1,875.6 1089.3,877.0 1089.5,878.3 1089.7,879.7 1090.0,881.0 1090.2,882.4 1090.4,883.7 1090.6,885.1 1090.8,886.4 1091.1,887.8 1091.3,889.1 1091.5,890.5 1091.7,891.8 1091.9,893.2 1092.2,894.5 1092.4,895.9 1092.6,897.2 1092.8,898.6 1093.0,899.9 1093.3,901.3 1093.5,902.6 1093.7,904.0 1093.9,905.3 1094.1,906.7 1094.4,908.0 1094.6,909.4 1094.8,910.7 1095.0,912.1 1095.2,913.4 1095.5,914.8 1095.7,916.1 1095.9,917.5 1096.1,918.8 1096.4,920.2 1096.6,921.5 1096.8,922.9 1097.0,924.2 1097.3,925.6 1097.5,926.9 1097.7,928.3 1097.9,929.6 1098.1,931.0 1098.4,932.3 1098.6,933.7 1098.8,935.0 1099.0,936.4 1099.3,937.7 1099.5,939.1 1099.7,940.4 1099.9,941.8 1100.2,943.1 1100.4,944.5 1100.6,945.8 1100.9,947.2 1101.1,948.5 1101.3,949.9 1101.5,951.2 1101.8,952.6 1102.0,953.9 1102.2,955.3 1102.5,956.6 1102.7,958.0 1102.9,959.3 1103.1,960.7 1103.4,962.0 1103.6,963.4 1103.8,964.7 1104.1,966.1 1104.3,967.4 1104.5,968.8 1104.8,970.1 1105.0,971.5 1105.2,972.8 1105.5,974.2 1105.7,975.5 1105.9,976.9 1106.2,978.2 1106.4,979.6 1106.6,980.9 1106.9,982.3 1107.1,983.6 1107.3,985.0 1107.6,986.3 1107.8,987.7 1108.0,989.0 1108.3,990.4 1108.5,991.7 1108.8,993.1 1109.0,994.4 1109.2,995.8 1109.5,997.1 1109.7,998.5 1109.9,999.8 1110.2,1001.2 1110.4,1002.5 1110.7,1003.9 1110.9,1005.2 1111.2,1006.6 1111.4,1007.9 1111.6,1009.3 1111.9,1010.6 1112.1,1012.0 1112.4,1013.3 1112.6,1014.7 1112.9,1016.0 1113.1,1017.4 1113.3,1018.7 1113.6,1020.1 1113.8,1021.4 1114.1,1022.8 1114.3,1024.1 1114.6,1025.5 1114.8,1026.8 1115.1,1028.2 1115.3,1029.5 1115.6,1030.9 1115.8,1032.2 1116.1,1033.6 1116.3,1034.9 1116.6,1036.3 1116.8,1037.6 1117.1,1039.0 1117.3,1040.3 1117.6,1041.7 1117.8,1043.0 1118.1,1044.4 1118.4,1045.7 1118.6,1047.1 1118.9,1048.4 1119.1,1049.8 1119.4,1051.1 1119.6,1052.5 1119.9,1053.8 1120.2,1055.2 1120.4,1056.5 1120.7,1057.9 1120.9,1059.2 1121.2,1060.6 1121.5,1061.9 1121.7,1063.3 1122.0,1064.6 1122.3,1066.0 1122.5,1067.3 1122.8,1068.7 1123.0,1070.0 1123.3,1071.4 1123.6,1072.7 1123.8,1074.1 1124.1,1075.4 1124.4,1076.8 1124.6,1078.1 1124.9,1079.5 1125.2,1080.8 1125.5,1082.2 1125.7,1083.5 1126.0,1084.9 1126.3,1086.2 1126.5,1087.6 1126.8,1088.9 1127.1,1090.3 1127.4,1091.6 1127.6,1093.0 1127.9,1094.3 1128.2,1095.7 1128.5,1097.0 1128.8,1098.4 1129.0,1099.8 1129.3,1101.1 1129.6,1102.5 1129.8,1103.9 1130.1,1105.2 1130.3,1106.6 1130.6,1108.0 1130.8,1109.4 1131.1,1110.7 1131.4,1112.1 1131.7,1113.5 1132.0,1114.8 1132.3,1116.1 1132.6,1117.4 1132.9,1118.7 1133.3,1120.0 1133.7,1121.1 1134.0,1122.2 1134.4,1123.3 1134.8,1124.4 1135.2,1125.4 1135.6,1126.5 1136.0,1127.5 1136.4,1128.5 1136.9,1129.6 1137.3,1130.6 1137.7,1131.7 1138.2,1132.7 1138.6,1133.8 1139.1,1135.0 1139.5,1136.1 1140.0,1137.3 1140.6,1138.9 1141.1,1140.5 1141.6,1142.1 1142.2,1143.8 1142.7,1145.5 1143.2,1147.2 1143.8,1149.0 1144.3,1150.8 1144.9,1152.6 1145.5,1154.4 1146.2,1156.2 1146.8,1158.0 1147.6,1159.8 1148.3,1161.5 1149.1,1163.3 1150.0,1165.0 1151.0,1166.9 1152.1,1168.8 1153.3,1170.7 1154.5,1172.7 1155.8,1174.6 1157.1,1176.5 1158.4,1178.4 1159.8,1180.3 1161.2,1182.2 1162.7,1184.1 1164.1,1185.9 1165.6,1187.8 1167.1,1189.6 1168.6,1191.4 1170.2,1193.2 1171.7,1195.0 1173.3,1196.8 1175.0,1198.6 1176.6,1200.4 1178.4,1202.1 1180.1,1203.9 1181.9,1205.6 1183.7,1207.3 1185.5,1209.0 1187.4,1210.7 1189.2,1212.4 1191.0,1214.0 1192.9,1215.6 1194.7,1217.3 1196.5,1218.9 1198.2,1220.4 1200.0,1222.0 1201.6,1223.4 1203.2,1224.8 1204.8,1226.2 1206.3,1227.6 1207.9,1228.9 1209.5,1230.3 1211.1,1231.6 1212.6,1232.9 1214.2,1234.2 1215.8,1235.5 1217.3,1236.8 1218.9,1238.1 1220.4,1239.3 1222.0,1240.6 1223.5,1241.8 1225.0,1243.0 1226.4,1244.1 1227.7,1245.1 1229.0,1246.2 1230.3,1247.2 1231.6,1248.2 1232.9,1249.2 1234.2,1250.2 1235.5,1251.1 1236.8,1252.1 1238.1,1253.1 1239.4,1254.1 1240.7,1255.1 1242.1,1256.1 1243.5,1257.2 1244.9,1258.2 1246.4,1259.3 1248.3,1260.7 1250.2,1262.1 1252.1,1263.5 1254.1,1264.9 1256.1,1266.3 1258.1,1267.8 1260.2,1269.3 1262.3,1270.8 1264.4,1272.3 1266.5,1273.8 1268.7,1275.3 1270.8,1276.8 1273.0,1278.4 1275.1,1279.9 1277.3,1281.5 1279.4,1283.0 1281.7,1284.7 1284.0,1286.4 1286.4,1288.2 1288.7,1290.0 1291.1,1291.8 1293.5,1293.6 1295.9,1295.4 1298.3,1297.2 1300.7,1299.0 1303.1,1300.8 1305.5,1302.6 1307.9,1304.4 1310.3,1306.1 1312.6,1307.8 1315.0,1309.4 1317.4,1311.0 1319.6,1312.4 1321.8,1313.8 1324.0,1315.2 1326.2,1316.5 1328.4,1317.8 1330.6,1319.1 1332.8,1320.4 1335.0,1321.7 1337.2,1322.9 1339.3,1324.2 1341.5,1325.4 1343.7,1326.6 1345.9,1327.9 1348.1,1329.1 1350.3,1330.4 1352.5,1331.7 1458.3,1384.4 1564.1,1425.8 1669.9,1459.7 1775.7,1483.7 1881.5,1503.0 1987.3,1518.5 2093.1,1528.8 2198.9,1537.7 2280.0,1544.0" stroke="#808000"/>
<g stroke="none">
<polygon points="302.0,43.5 332.0,94.5 272.0,94.5" fill="#808000"/>
<polygon points="398.5,64.0 428.5,115.0 368.5,115.0" fill="#808000"/>
<polygon points="503.5,72.7 533.5,123.7 473.5,123.7" fill="#808000"/>
<polygon points="609.0,76.0 639.0,127.0 579.0,127.0" fill="#808000"/>
<polygon points="717.7,90.3 747.7,141.3 687.7,141.3" fill="#808000"/>
<polygon points="823.5,126.2 853.5,177.2 793.5,177.2" fill="#808000"/>
<polygon points="929.3,217.2 959.3,268.2 899.3,268.2" fill="#808000"/>
<polygon points="1034.6,531.0 1064.6,582.0 1004.6,582.0" fill="#808000"/>
<polygon points="1140.0,1103.3 1170.0,1154.3 1110.0,1154.3" fill="#808000"/>
<polygon points="1246.4,1225.3 1276.4,1276.3 1216.4,1276.3" fill="#808000"/>
<polygon points="1352.5,1297.7 1382.5,1348.7 1322.5,1348.7" fill="#808000"/>
<polygon points="1458.3,1350.4 1488.3,1401.4 1428.3,1401.4" fill="#808000"/>
<polygon points="1564.1,1391.8 1594.1,1442.8 1534.1,1442.8" fill="#808000"/>
<polygon points="1669.9,1425.7 1699.9,1476.7 1639.9,1476.7" fill="#808000"/>
<polygon points="1775.7,1449.7 1805.7,1500.7 1745.7,1500.7" fill="#808000"/>
<polygon points="1881.5,1469.0 1911.5,1520.0 1851.5,1520.0" fill="#808000"/>
<polygon points="1987.3,1484.5 2017.3,1535.5 1957.3,1535.5" fill="#808000"/>
<polygon points="2093.1,1494.8 2123.1,1545.8 2063.1,1545.8" fill="#808000"/>
<polygon points="2198.9,1503.7 2228.9,1554.7 2168.9,1554.7" fill="#808000"/>
<polygon points="2280.0,1510.0 2310.0,1561.0 2250.0,1561.0" fill="#808000"/>
</g>
<polyline points="284.2,77.6 290.0,78.6 295.9,79.7 301.7,80.7 307.5,81.8 313.2,82.9 319.0,84.0 324.8,85.0 330.6,86.1 336.4,87.2 342.2,88.2 348.1,89.2 354.0,90.2 359.9,91.1 365.8,92.0 371.8,92.8 377.8,93.6 384.2,94.4 390.7,95.1 397.2,95.8 403.8,96.4 410.3,97.0 417.0,97.5 423.6,98.1 430.3,98.6 436.9,99.0 443.6,99.5 450.3,99.9 457.0,100.2 463.7,100.6 470.3,100.9 477.0,101.2 483.6,101.5 490.2,101.7 496.8,101.9 503.4,102.0 510.0,102.1 516.7,102.1 523.3,102.1 529.9,102.0 536.5,102.0 543.1,101.9 549.7,101.9 556.3,101.9 563.0,101.9 569.6,102.0 576.2,102.1 582.8,102.3 589.4,102.5 596.0,102.8 602.6,103.0 609.3,103.3 615.9,103.5 622.5,103.8 629.2,104.1 635.8,104.4 642.4,104.8 649.1,105.2 655.7,105.7 662.3,106.3 668.9,106.9 675.5,107.7 682.1,108.6 688.6,109.6 695.2,110.8 701.9,112.1 708.6,113.4 715.3,114.8 722.0,116.3 728.7,117.8 735.4,119.4 742.1,121.1 748.8,123.0 755.4,124.9 762.1,127.0 768.7,129.3 775.2,131.7 781.7,134.2 788.2,136.9 794.6,139.9 801.0,143.0 808.0,146.7 815.1,150.8 822.4,155.1 829.6,159.8 836.9,164.6 844.2,169.7 851.3,174.9 858.4,180.2 865.4,185.6 872.1,191.1 878.7,196.6 884.9,202.1 890.9,207.4 896.6,212.7 901.9,217.9 906.8,222.9 910.0,226.4 913.2,230.0 916.2,233.6 919.0,237.2 921.8,240.8 924.4,244.5 926.9,248.1 929.3,251.7 931.6,255.3 933.7,258.8 935.8,262.2 937.7,265.5 939.5,268.7 941.2,271.8 942.8,274.7 944.3,277.5 945.2,279.1 945.9,280.6 946.6,282.0 947.2,283.5 947.8,284.8 948.3,286.2 948.8,287.5 949.3,288.8 949.8,290.1 950.2,291.3 950.6,292.6 951.1,293.9 951.5,295.2 952.0,296.5 952.5,297.8 953.0,299.1 953.5,300.5 954.0,301.8 954.6,303.1 955.1,304.5 955.6,305.8 956.1,307.2 956.6,308.5 957.1,309.9 957.7,311.2 958.2,312.6 958.7,313.9 959.2,315.3 959.7,316.6 960.2,318.0 960.7,319.4 961.2,320.7 961.7,322.1 962.2,323.4 962.7,324.8 963.2,326.1 963.7,327.4 964.2,328.8 964.7,330.1 965.2,331.5 965.7,332.8 966.2,334.2 966.7,335.6 967.2,336.9 967.7,338.3 968.1,339.6 968.6,341.0 969.1,342.3 969.6,343.7 970.1,345.0 970.6,346.4 971.0,347.7 971.5,349.1 972.0,350.4 972.5,351.8 972.9,353.1 973.4,354.5 973.9,355.8 974.3,357.2 974.8,358.5 975.3,359.9 975.7,361.2 976.2,362.6 976.6,363.9 977.1,365.3 977.6,366.6 978.0,368.0 978.5,369.3 978.9,370.7 979.4,372.0 979.8,373.4 980.3,374.7 980.7,376.1 981.2,377.4 981.6,378.8 982.1,380.1 982.5,381.5 983.0,382.8 983.4,384.2 983.8,385.5 984.3,386.9 984.7,388.2 985.1,389.6 985.6,390.9 986.0,392.3 986.4,393.6 986.9,395.0 987.3,396.3 987.7,397.7 988.2,399.0 988.6,400.4 989.0,401.7 989.4,403.1 989.9,404.4 990.3,405.8 990.7,407.1 991.1,408.5 991.5,409.8 991.9,411.2 992.4,412.5 992.8,413.9 993.2,415.2 993.6,416.6 994.0,417.9 994.4,419.3 994.8,420.6 995.2,422.0 995.6,423.3 996.0,424.7 996.4,426.0 996.8,427.4 997.2,428.7 997.6,430.1 998.0,431.4 998.4,432.8 998.8,434.1 999.2,435.5 999.6,436.8 1000.0,438.2 1000.4,439.5 1000.8,440.9 1001.2,442.2 1001.6,443.6 1002.0,444.9 1002.4,446.3 1002.7,447.6 1003.1,449.0 1003.5,450.3 1003.9,451.7 1004.3,453.0 1004.6,454.4 1005.0,455.7 1005.4,457.1 1005.8,458.4 1006.2,459.8 1006.5,461.1 1006.9,462.5 1007.3,463.8 1007.6,465.2 1008.0,466.5 1008.4,467.9 1008.7,469.2 1009.1,470.6 1009.5,471.9 1009.8,473.3 1010.2,474.6 1010.6,476.0 1010.9,477.3 1011.3,478.7 1011.6,480.0 1012.0,481.4 1012.4,482.7 1012.7,484.1 1013.1,485.4 1013.4,486.8 1013.8,488.1 1014.1,489.5 1014.5,490.8 1014.8,492.2 1015.2,493.5 1015.5,494.9 1015.9,496.2 1016.2,497.6 1016.6,498.9 1016.9,500.3 1017.3,501.6 1017.6,503.0 1017.9,504.3 1018.3,505.7 1018.6,507.0 1019.0,508.4 1019.3,509.7 1019.6,511.1 1020.0,512.4 1020.3,513.8 1020.6,515.1 1021.0,516.5 1021.3,517.8 1021.6,519.2 1022.0,520.5 1022.3,521.9 1022.6,523.2 1023.0,524.6 1023.3,525.9 1023.6,527.3 1023.9,528.6 1024.3,530.0 1024.6,531.3 1024.9,532.7 1025.2,534.0 1025.6,535.4 1025.9,536.7 1026.2,538.1 1026.5,539.4 1026.8,540.8 1027.1,542.1 1027.5,543.5 1027.8,544.8 1028.1,546.2 1028.4,547.5 1028.7,548.9 1029.0,550.2 1029.3,551.6 1029.6,552.9 1030.0,554.3 1030.3,555.6 1030.6,557.0 1030.9,558.3 1031.2,559.7 1031.5,561.0 1031.8,562.4 1032.1,563.7 1032.4,565.1 1032.7,566.4 1033.0,567.8 1033.3,569.1 1033.6,570.5 1033.9,571.8 1034.2,573.2 1034.5,574.5 1034.8,575.9 1035.1,577.2 1035.4,578.6 1035.7,579.9 1036.0,581.3 1036.3,582.6 1036.5,584.0 1036.8,585.3 1037.1,586.7 1037.4,588.0 1037.7,589.4 1038.0,590.7 1038.3,592.1 1038.6,593.4 1038.9,594.8 1039.1,596.1 1039.4,597.5 1039.7,598.8 1040.0,600.2 1040.3,601.5 1040.6,602.9 1040.8,604.2 1041.1,605.6 1041.4,606.9 1041.7,608.3 1042.0,609.6 1042.2,611.0 1042.5,612.3 1042.8,613.7 1043.1,615.0 1043.3,616.4 1043.6,617.7 1043.9,619.1 1044.2,620.4 1044.4,621.8 1044.7,623.1 1045.0,624.5 1045.3,625.8 1045.5,627.2 1045.8,628.5 1046.1,629.9 1046.3,631.2 1046.6,632.6 1046.9,633.9 1047.1,635.3 1047.4,636.6 1047.7,638.0 1047.9,639.3 1048.2,640.7 1048.5,642.0 1048.7,643.4 1049.0,644.7 1049.2,646.1 1049.5,647.4 1049.8,648.8 1050.0,650.1 1050.3,651.5 1050.5,652.8 1050.8,654.2 1051.1,655.5 1051.3,656.9 1051.6,658.2 1051.8,659.6 1052.1,660.9 1052.3,662.3 1052.6,663.6 1052.9,665.0 1053.1,666.3 1053.4,667.7 1053.6,669.0 1053.9,670.4 1054.1,671.7 1054.4,673.1 1054.6,674.4 1054.9,675.8 1055.1,677.1 1055.4,678.5 1055.6,679.8 1055.9,681.2 1056.1,682.5 1056.4,683.9 1056.6,685.2 1056.9,686.6 1057.1,687.9 1057.3,689.3 1057.6,690.6 1057.8,692.0 1058.1,693.3 1058.3,694.7 1058.6,696.0 1058.8,697.4 1059.1,698.7 1059.3,700.1 1059.5,701.4 1059.8,702.8 1060.0,704.1 1060.3,705.5 1060.5,706.9 1060.7,708.2 1061.0,709.6 1061.2,710.9 1061.5,712.3 1061.7,713.6 1061.9,715.0 1062.2,716.3 1062.4,717.7 1062.6,719.0 1062.9,720.4 1063.1,721.7 1063.4,723.1 1063.6,724.4 1063.8,725.8 1064.1,727.1 1064.3,728.5 1064.5,729.8 1064.8,731.2 1065.0,732.5 1065.2,733.9 1065.5,735.2 1065.7,736.6 1065.9,737.9 1066.2,739.3 1066.4,740.6 1066.6,742.0 1066.8,743.3 1067.1,744.7 1067.3,746.0 1067.5,747.4 1067.8,748.7 1068.0,750.1 1068.2,751.4 1068.5,752.8 1068.7,754.1 1068.9,755.5 1069.1,756.8 1069.4,758.2 1069.6,759.5 1069.8,760.9 1070.0,762.2 1070.3,763.6 1070.5,764.9 1070.7,766.3 1071.0,767.6 1071.2,769.0 1071.4,770.3 1071.6,771.7 1071.9,773.0 1072.1,774.4 1072.3,775.7 1072.5,777.1 1072.8,778.4 1073.0,779.8 1073.2,781.1 1073.4,782.5 1073.6,783.8 1073.9,785.2 1074.1,786.5 1074.3,787.9 1074.5,789.2 1074.8,790.6 1075.0,791.9 1075.2,793.3 1075.4,794.6 1075.6,796.0 1075.9,797.3 1076.1,798.7 1076.3,800.0 1076.5,801.4 1076.8,802.7 1077.0,804.1 1077.2,805.4 1077.4,806.8 1077.6,808.1 1077.9,809.5 1078.1,810.8 1078.3,812.2 1078.5,813.5 1078.7,814.9 1079.0,816.2 1079.2,817.6 1079.4,818.9 1079.6,820.3 1079.8,821.6 1080.1,823.0 1080.3,824.3 1080.5,825.7 1080.7,827.0 1080.9,828.4 1081.2,829.7 1081.4,831.1 1081.6,832.4 1081.8,833.8 1082.0,835.1 1082.2,836.5 1082.5,837.8 1082.7,839.2 1082.9,840.5 1083.1,841.9 1083.3,843.2 1083.6,844.6 1083.8,845.9 1084.0,847.3 1084.2,848.6 1084.4,850.0 1084.6,851.3 1084.9,852.7 1085.1,854.0 1085.3,855.4 1085.5,856.7 1085.7,858.1 1086.0,859.4 1086.2,860.8 1086.4,862.1 1086.6,863.5 1086.8,864.8 1087.1,866.2 1087.3,867.5 1087.5,868.9 1087.7,870.2 1087.9,871.6 1088.1,872.9 1088.4,874.3 1088.6,875.6 1088.8,877.0 1089.0,878.3 1089.2,879.7 1089.5,881.0 1089.7,882.4 1089.9,883.7 1090.1,885.1 1090.3,886.4 1090.6,887.8 1090.8,889.1 1091.0,890.5 1091.2,891.8 1091.4,893.2 1091.7,894.5 1091.9,895.9 1092.1,897.2 1092.3,898.6 1092.5,899.9 1092.8,901.3 1093.0,902.6 1093.2,904.0 1093.4,905.3 1093.6,906.7 1093.9,908.0 1094.1,909.4 1094.3,910.7 1094.5,912.1 1094.7,913.4 1095.0,914.8 1095.2,916.1 1095.4,917.5 1095.6,918.8 1095.9,920.2 1096.1,921.5 1096.3,922.9 1096.5,924.2 1096.8,925.6 1097.0,926.9 1097.2,928.3 1097.4,929.6 1097.6,931.0 1097.9,932.3 1098.1,933.7 1098.3,935.0 1098.5,936.4 1098.8,937.7 1099.0,939.1 1099.2,940.4 1099.4,941.8 1099.7,943.1 1099.9,944.5 1100.1,945.8 1100.4,947.2 1100.6,948.5 1100.8,949.9 1101.0,951.2 1101.3,952.6 1101.5,953.9 1101.7,955.3 1102.0,956.6 1102.2,958.0 1102.4,959.3 1102.6,960.7 1102.9,962.0 1103.1,963.4 1103.3,964.7 1103.6,966.1 1103.8,967.4 1104.0,968.8 1104.3,970.1 1104.5,971.5 1104.7,972.8 1105.0,974.2 1105.2,975.5 1105.4,976.9 1105.7,978.2 1105.9,979.6 1106.1,980.9 1106.4,982.3 1106.6,983.6 1106.8,985.0 1107.1,986.3 1107.3,987.7 1107.5,989.0 1107.8,990.4 1108.0,991.7 1108.3,993.1 1108.5,994.4 1108.7,995.8 1109.0,997.1 1109.2,998.5 1109.4,999.8 1109.7,1001.2 1109.9,1002.5 1110.2,1003.9 1110.4,1005.2 1110.7,1006.6 1110.9,1007.9 1111.1,1009.3 1111.4,1010.6 1111.6,1012.0 1111.9,1013.3 1112.1,1014.7 1112.4,1016.0 1112.6,1017.4 1112.8,1018.7 1113.1,1020.1 1113.3,1021.4 1113.6,1022.8 1113.8,1024.1 1114.1,1025.5 1114.3,1026.8 1114.6,1028.2 1114.8,1029.5 1115.1,1030.9 1115.3,1032.2 1115.6,1033.6 1115.8,1034.9 1116.1,1036.3 1116.3,1037.6 1116.6,1039.0 1116.8,1040.3 1117.1,1041.7 1117.3,1043.0 1117.6,1044.4 1117.9,1045.7 1118.1,1047.1 1118.4,1048.4 1118.6,1049.8 1118.9,1051.1 1119.1,1052.5 1119.4,1053.8 1119.7,1055.2 1119.9,1056.5 1120.2,1057.9 1120.4,1059.2 1120.7,1060.6 1121.0,1061.9 1121.2,1063.3 1121.5,1064.6 1121.8,1066.0 1122.0,1067.3 1122.3,1068.7 1122.5,1070.0 1122.8,1071.4 1123.1,1072.7 1123.3,1074.1 1123.6,1075.4 1123.9,1076.8 1124.1,1078.1 1124.4,1079.5 1124.7,1080.8 1125.0,1082.2 1125.2,1083.5 1125.5,1084.9 1125.8,1086.2 1126.0,1087.6 1126.3,1088.9 1126.6,1090.3 1126.9,1091.6 1127.1,1093.0 1127.4,1094.3 1127.7,1095.7 1128.0,1097.0 1128.3,1098.4 1128.5,1099.7 1128.8,1101.1 1129.0,1102.4 1129.3,1103.7 1129.5,1105.0 1129.8,1106.3 1130.0,1107.6 1130.3,1108.9 1130.5,1110.2 1130.8,1111.6 1131.1,1112.9 1131.4,1114.3 1131.7,1115.7 1132.1,1117.1 1132.4,1118.5 1132.8,1120.0 1133.3,1122.0 1133.9,1124.0 1134.5,1126.2 1135.2,1128.3 1135.9,1130.6 1136.6,1132.8 1137.3,1135.1 1138.0,1137.4 1138.8,1139.7 1139.5,1142.0 1140.3,1144.3 1141.1,1146.5 1141.9,1148.6 1142.7,1150.7 1143.5,1152.7 1144.3,1154.6 1144.9,1156.0 1145.5,1157.5 1146.2,1158.8 1146.8,1160.2 1147.4,1161.5 1148.0,1162.7 1148.7,1164.0 1149.3,1165.2 1149.9,1166.4 1150.6,1167.7 1151.3,1168.9 1152.0,1170.1 1152.7,1171.3 1153.4,1172.5 1154.2,1173.7 1155.0,1175.0 1155.9,1176.4 1156.8,1177.8 1157.8,1179.2 1158.7,1180.6 1159.7,1182.0 1160.8,1183.4 1161.8,1184.8 1162.8,1186.2 1163.9,1187.6 1165.0,1189.0 1166.1,1190.3 1167.2,1191.7 1168.3,1193.0 1169.4,1194.3 1170.6,1195.6 1171.7,1196.9 1172.8,1198.1 1173.9,1199.3 1175.1,1200.5 1176.3,1201.7 1177.5,1202.8 1178.7,1204.0 1179.9,1205.1 1181.1,1206.2 1182.3,1207.3 1183.5,1208.4 1184.7,1209.5 1185.9,1210.5 1187.1,1211.6 1188.3,1212.6 1189.5,1213.6 1190.7,1214.6 1191.7,1215.5 1192.8,1216.3 1193.8,1217.1 1194.9,1217.9 1195.9,1218.6 1197.0,1219.4 1198.0,1220.1 1199.0,1220.8 1200.1,1221.6 1201.1,1222.3 1202.1,1223.1 1203.1,1223.9 1204.2,1224.7 1205.2,1225.5 1206.2,1226.4 1207.2,1227.3 1208.3,1228.4 1209.4,1229.5 1210.4,1230.7 1211.5,1231.9 1212.5,1233.2 1213.5,1234.4 1214.4,1235.7 1215.5,1237.0 1216.5,1238.3 1217.5,1239.7 1218.6,1241.0 1219.7,1242.3 1220.9,1243.7 1222.2,1245.0 1223.5,1246.3 1224.9,1247.6 1227.0,1249.4 1229.2,1251.2 1231.7,1253.0 1234.2,1254.8 1236.9,1256.6 1239.6,1258.5 1242.4,1260.3 1245.3,1262.1 1248.2,1264.0 1251.0,1265.8 1253.8,1267.7 1256.6,1269.5 1259.3,1271.3 1261.9,1273.1 1264.4,1274.9 1266.7,1276.7 1268.5,1278.2 1270.3,1279.6 1272.0,1281.1 1273.7,1282.6 1275.4,1284.1 1277.0,1285.6 1278.6,1287.1 1280.2,1288.5 1281.7,1290.0 1283.2,1291.4 1284.7,1292.8 1286.2,1294.2 1287.7,1295.6 1289.1,1296.9 1290.6,1298.2 1292.0,1299.5 1293.1,1300.5 1294.2,1301.4 1295.3,1302.3 1296.3,1303.1 1297.4,1304.0 1298.4,1304.8 1299.4,1305.6 1300.4,1306.4 1301.4,1307.2 1302.4,1308.0 1303.4,1308.8 1304.4,1309.7 1305.4,1310.6 1306.4,1311.5 1307.5,1312.5 1308.5,1313.5 1309.8,1314.8 1311.0,1316.2 1312.1,1317.5 1313.3,1319.0 1314.4,1320.4 1315.5,1321.9 1316.6,1323.4 1317.8,1325.0 1319.0,1326.6 1320.3,1328.2 1321.6,1329.8 1323.1,1331.5 1324.6,1333.2 1326.3,1334.9 1328.1,1336.6 1330.0,1338.4 1334.3,1342.0 1339.2,1345.8 1344.6,1349.7 1350.5,1353.9 1356.8,1358.1 1363.5,1362.5 1370.5,1366.9 1377.6,1371.5 1385.0,1376.1 1392.4,1380.7 1399.9,1385.3 1407.4,1390.0 1414.8,1394.6 1422.0,1399.1 1429.0,1403.6 1435.8,1408.0 1541.6,1464.5 1647.4,1507.8 1753.2,1539.0 1859.0,1561.0 1964.8,1578.2 2070.6,1590.0 2176.4,1599.6 2280.0,1604.0" stroke="#008000"/>
<g stroke="none">
<polygon points="284.2,44.1 317.7,77.6 284.2,111.1 250.7,77.6" fill="#008000"/>
<polygon points="377.8,60.1 411.3,93.6 377.8,127.1 344.3,93.6" fill="#008000"/>
<polygon points="483.6,68.0 517.1,101.5 483.6,135.0 450.1,101.5" fill="#008000"/>
<polygon points="589.4,69.0 622.9,102.5 589.4,136.0 555.9,102.5" fill="#008000"/>
<polygon points="695.2,77.3 728.7,110.8 695.2,144.3 661.7,110.8" fill="#008000"/>
<polygon points="801.0,109.5 834.5,143.0 801.0,176.5 767.5,143.0" fill="#008000"/>
<polygon points="906.8,189.4 940.3,222.9 906.8,256.4 873.3,222.9" fill="#008000"/>
<polygon points="1013.2,450.2 1046.7,483.7 1013.2,517.2 979.7,483.7" fill="#008000"/>
<polygon points="1118.9,1021.8 1152.4,1055.3 1118.9,1088.8 1085.4,1055.3" fill="#008000"/>
<polygon points="1224.9,1214.1 1258.4,1247.6 1224.9,1281.1 1191.4,1247.6" fill="#008000"/>
<polygon points="1330.0,1304.9 1363.5,1338.4 1330.0,1371.9 1296.5,1338.4" fill="#008000"/>
<polygon points="1435.8,1374.5 1469.3,1408.0 1435.8,1441.5 1402.3,1408.0" fill="#008000"/>
<polygon points="1541.6,1431.0 1575.1,1464.5 1541.6,1498.0 1508.1,1464.5" fill="#008000"/>
<polygon points="1647.4,1474.3 1680.9,1507.8 1647.4,1541.3 1613.9,1507.8" fill="#008000"/>
<polygon points="1753.2,1505.5 1786.7,1539.0 1753.2,1572.5 1719.7,1539.0" fill="#008000"/>
<polygon points="1859.0,1527.5 1892.5,1561.0 1859.0,1594.5 1825.5,1561.0" fill="#008000"/>
<polygon points="1964.8,1544.7 1998.3,1578.2 1964.8,1611.7 1931.3,1578.2" fill="#008000"/>
<polygon points="2070.6,1556.5 2104.1,1590.0 2070.6,1623.5 2037.1,1590.0" fill="#008000"/>
<polygon points="2176.4,1566.1 2209.9,1599.6 2176.4,1633.1 2142.9,1599.6" fill="#008000"/>
<polygon points="2280.0,1570.5 2313.5,1604.0 2280.0,1637.5 2246.5,1604.0" fill="#008000"/>
</g>
</g>
<g stroke="#111" stroke-width="6.8" fill="none" stroke-linecap="butt">
<rect x="240.8" y="37.3" width="2035.7" height="1637.3"/>
<line x1="495.3" y1="1674.6" x2="495.3" y2="1657.6"/>
<line x1="749.7" y1="1674.6" x2="749.7" y2="1641.6"/>
<line x1="1004.2" y1="1674.6" x2="1004.2" y2="1657.6"/>
<line x1="1258.7" y1="1674.6" x2="1258.7" y2="1641.6"/>
<line x1="1513.1" y1="1674.6" x2="1513.1" y2="1657.6"/>
<line x1="1767.6" y1="1674.6" x2="1767.6" y2="1641.6"/>
<line x1="2022.0" y1="1674.6" x2="2022.0" y2="1657.6"/>
<line x1="240.8" y1="1510.9" x2="270.8" y2="1510.9"/>
<line x1="240.8" y1="1203.9" x2="255.8" y2="1203.9"/>
<line x1="240.8" y1="896.9" x2="270.8" y2="896.9"/>
<line x1="240.8" y1="589.9" x2="255.8" y2="589.9"/>
<line x1="240.8" y1="282.9" x2="270.8" y2="282.9"/>
</g>
<g font-weight="bold" font-size="80" fill="#000">
<text x="205.5" y="1534.4" text-anchor="end">30</text>
<text x="205.5" y="920.4" text-anchor="end">60</text>
<text x="205.5" y="306.4" text-anchor="end">90</text>
<text x="240.8" y="1770.5" text-anchor="middle">0</text>
<text x="749.7" y="1770.5" text-anchor="middle">200</text>
<text x="1258.7" y="1770.5" text-anchor="middle">400</text>
<text x="1767.6" y="1770.5" text-anchor="middle">600</text>
<text x="2276.5" y="1770.5" text-anchor="middle">800</text>
</g>
<text x="1258" y="1864" font-weight="bold" font-size="86" letter-spacing="0.3" text-anchor="middle">Temperature <tspan font-weight="normal" stroke="#000" stroke-width="1.2">(</tspan><tspan font-size="60" dy="-36">o</tspan><tspan dy="36">C</tspan><tspan font-weight="normal" stroke="#000" stroke-width="1.2">)</tspan></text>
<text transform="translate(100,789) rotate(-90)" font-weight="bold" font-size="86" letter-spacing="1.1" text-anchor="middle">Weight <tspan font-weight="normal" stroke="#000" stroke-width="1.5">(</tspan>%<tspan font-weight="normal" stroke="#000" stroke-width="1.5">)</tspan></text>
<text x="50" y="124" font-weight="bold" font-size="129" letter-spacing="1.2"><tspan font-weight="normal" stroke="#000" stroke-width="2">(</tspan>a<tspan font-weight="normal" stroke="#000" stroke-width="2">)</tspan></text>
<line x1="336" y1="364.3" x2="510" y2="364.3" stroke="#000000" stroke-width="10" stroke-linecap="round"/>
<rect x="394.5" y="335.8" width="57.0" height="57.0" fill="#000000"/>
<text x="528.7" y="390.3" font-size="78">9 wt.%</text>
<line x1="336" y1="461.2" x2="510" y2="461.2" stroke="#0000ff" stroke-width="10" stroke-linecap="round"/>
<circle cx="423.0" cy="461.2" r="31.0" fill="#0000ff"/>
<text x="531.7" y="487.2" font-size="78">11 wt.%</text>
<line x1="336" y1="556.4" x2="510" y2="556.4" stroke="#808000" stroke-width="10" stroke-linecap="round"/>
<polygon points="423.0,512.4 461.0,578.4 385.0,578.4" fill="#808000"/>
<text x="531.7" y="582.4" font-size="78">13 wt.%</text>
<line x1="336" y1="653.6" x2="510" y2="653.6" stroke="#008000" stroke-width="10" stroke-linecap="round"/>
<polygon points="423.0,613.6 461.5,653.6 423.0,693.6 384.5,653.6" fill="#008000"/>
<text x="531.7" y="679.6" font-size="78">15 wt.%</text>
<rect x="1253.9" y="36.8" width="1022.6" height="768.7" fill="#fff"/>
<line x1="1791.8" y1="35" x2="1791.8" y2="805.5" stroke="#777" stroke-width="4" stroke-dasharray="15 12.4"/>
<g clip-path="url(#ci)" fill="none" stroke-width="3.5" stroke-linejoin="round">
<polyline points="1253.9,216.3 1266.3,218.9 1278.6,221.4 1290.8,224.0 1303.0,226.5 1315.4,229.1 1327.9,231.7 1340.6,234.3 1353.5,237.0 1368.1,240.1 1382.7,243.2 1397.6,246.4 1412.6,249.6 1428.0,252.9 1443.7,256.2 1459.8,259.5 1476.4,262.8 1498.3,267.0 1522.4,271.5 1547.7,276.1 1573.2,280.8 1598.0,285.2 1621.2,289.4 1641.7,293.2 1658.7,296.5 1665.4,297.8 1671.1,299.1 1676.2,300.2 1680.9,301.2 1685.5,302.2 1690.3,303.3 1695.5,304.3 1701.4,305.5 1710.9,307.3 1721.0,309.1 1731.7,310.9 1742.9,312.8 1754.5,314.7 1766.5,316.7 1778.6,318.7 1790.9,320.7 1806.2,323.2 1821.9,325.7 1838.0,328.3 1854.5,331.0 1871.5,333.6 1889.0,336.4 1907.1,339.1 1925.8,341.9 1951.6,345.6 1979.4,349.4 2008.6,353.3 2038.5,357.3 2068.3,361.2 2097.3,365.2 2124.8,369.1 2150.1,373.0 2167.6,375.8 2184.1,378.7 2199.9,381.5 2215.2,384.3 2230.2,387.1 2245.2,389.9 2260.3,392.7 2275.7,395.5" stroke="#222"/>
<rect x="1243.9" y="206.3" width="20.0" height="20.0" fill="#000000"/>
<rect x="1466.4" y="252.8" width="20.0" height="20.0" fill="#000000"/>
<rect x="1691.4" y="295.5" width="20.0" height="20.0" fill="#000000"/>
<rect x="1915.8" y="331.9" width="20.0" height="20.0" fill="#000000"/>
<rect x="2140.1" y="363.0" width="20.0" height="20.0" fill="#000000"/>
<rect x="2265.7" y="385.5" width="20.0" height="20.0" fill="#000000"/>
<polyline points="1253.9,177.5 1259.9,179.4 1265.8,181.4 1271.7,183.4 1277.7,185.4 1283.6,187.3 1289.6,189.2 1295.6,191.1 1301.7,193.0 1307.9,194.9 1313.9,196.7 1319.9,198.4 1326.0,200.2 1332.3,201.9 1338.9,203.6 1345.9,205.4 1353.5,207.2 1366.4,210.0 1380.7,212.8 1396.0,215.7 1412.1,218.6 1428.5,221.5 1444.9,224.4 1461.0,227.5 1476.4,230.5 1490.4,233.5 1504.3,236.6 1517.9,239.9 1531.6,243.1 1545.1,246.3 1558.7,249.4 1572.4,252.3 1586.3,255.0 1600.6,257.5 1615.2,259.8 1629.9,261.9 1644.5,263.9 1659.2,265.9 1673.6,267.9 1687.7,269.8 1701.4,271.9 1713.0,273.8 1724.1,275.6 1735.0,277.4 1745.7,279.3 1756.5,281.1 1767.5,283.0 1778.9,284.9 1790.9,286.9 1806.2,289.4 1821.9,291.9 1837.9,294.4 1854.5,297.0 1871.5,299.7 1889.0,302.4 1907.1,305.2 1925.8,308.0 1951.7,311.8 1979.7,315.9 2009.2,320.2 2039.3,324.4 2069.3,328.7 2098.5,332.9 2126.2,336.8 2151.6,340.5 2168.9,343.0 2185.2,345.4 2200.8,347.7 2216.0,350.0 2230.8,352.2 2245.5,354.3 2260.4,356.5 2275.7,358.8" stroke="#0000ff"/>
<circle cx="1253.9" cy="177.5" r="10.5" fill="#0000ff"/>
<circle cx="1476.4" cy="230.5" r="10.5" fill="#0000ff"/>
<circle cx="1701.4" cy="271.9" r="10.5" fill="#0000ff"/>
<circle cx="1925.8" cy="308.0" r="10.5" fill="#0000ff"/>
<circle cx="2151.6" cy="340.5" r="10.5" fill="#0000ff"/>
<circle cx="2275.7" cy="358.8" r="10.5" fill="#0000ff"/>
<polyline points="1253.9,252.5 1353.5,275.8 1476.4,294.0 1672.0,322.3 1676.0,336.0 1701.4,334.0 1728.0,335.0 1736.0,331.0 1790.9,337.7 1925.8,356.0 2151.6,384.0 2275.7,399.8" stroke="#8a8a00"/>
<polygon points="1253.9,237.8 1265.9,259.8 1241.9,259.8" fill="#808000"/>
<polygon points="1477.0,279.8 1489.0,301.8 1465.0,301.8" fill="#808000"/>
<polygon points="1701.4,320.3 1713.4,342.3 1689.4,342.3" fill="#808000"/>
<polygon points="1925.8,341.8 1937.8,363.8 1913.8,363.8" fill="#808000"/>
<polygon points="2151.6,369.8 2163.6,391.8 2139.6,391.8" fill="#808000"/>
<polygon points="2275.7,385.1 2287.7,407.1 2263.7,407.1" fill="#808000"/>
<polyline points="1254.9,516.7 1266.5,518.8 1278.0,520.9 1289.5,522.9 1301.0,525.0 1312.6,527.1 1324.3,529.3 1336.4,531.6 1348.8,534.0 1363.6,537.0 1378.5,540.3 1393.6,543.7 1409.0,547.2 1424.9,550.8 1441.3,554.3 1458.4,557.8 1476.2,561.1 1501.7,565.4 1529.9,569.8 1559.6,574.1 1590.0,578.4 1620.1,582.5 1649.0,586.4 1675.8,590.0 1699.4,593.2 1712.6,595.1 1724.7,596.8 1735.8,598.4 1746.5,599.9 1757.0,601.3 1767.7,602.7 1778.8,604.2 1790.8,605.6 1806.0,607.3 1821.5,609.0 1837.4,610.6 1853.7,612.1 1870.5,613.7 1887.8,615.4 1905.6,617.1 1924.1,618.9 1949.7,621.5 1977.4,624.2 2006.4,627.1 2036.1,630.1 2065.7,633.1 2094.6,636.0 2122.1,638.9 2147.4,641.6 2165.0,643.5 2181.8,645.4 2197.8,647.3 2213.3,649.1 2228.6,650.9 2243.8,652.7 2259.1,654.6 2274.8,656.4" stroke="#00a040"/>
<polygon points="1254.9,502.7 1267.4,516.7 1254.9,530.7 1242.4,516.7" fill="#008000"/>
<polygon points="1476.2,547.1 1488.7,561.1 1476.2,575.1 1463.7,561.1" fill="#008000"/>
<polygon points="1699.4,579.2 1711.9,593.2 1699.4,607.2 1686.9,593.2" fill="#008000"/>
<polygon points="1924.1,604.9 1936.6,618.9 1924.1,632.9 1911.6,618.9" fill="#008000"/>
<polygon points="2147.4,627.6 2159.9,641.6 2147.4,655.6 2134.9,641.6" fill="#008000"/>
<polygon points="2274.8,642.4 2287.3,656.4 2274.8,670.4 2262.3,656.4" fill="#008000"/>
</g>
<g stroke="#222" stroke-width="4.5" fill="none" stroke-linecap="square">
<line x1="1253.9" y1="36.8" x2="1253.9" y2="805.5"/>
<line x1="1253.9" y1="805.5" x2="2276.5" y2="805.5"/>
<line x1="1388.7" y1="805.5" x2="1388.7" y2="801.0"/>
<line x1="1523.4" y1="805.5" x2="1523.4" y2="794.5"/>
<line x1="1658.2" y1="805.5" x2="1658.2" y2="801.0"/>
<line x1="1792.9" y1="805.5" x2="1792.9" y2="794.5"/>
<line x1="1927.7" y1="805.5" x2="1927.7" y2="801.0"/>
<line x1="2062.4" y1="805.5" x2="2062.4" y2="794.5"/>
<line x1="2197.2" y1="805.5" x2="2197.2" y2="801.0"/>
<line x1="1253.9" y1="636.0" x2="1266.9" y2="636.0"/>
<line x1="1253.9" y1="421.2" x2="1260.9" y2="421.2"/>
<line x1="1253.9" y1="206.5" x2="1266.9" y2="206.5"/>
</g>
<text transform="translate(1238.0,655.3) scale(1,1.070)" font-weight="bold" font-size="61" text-anchor="end">25</text>
<text transform="translate(1238.0,225.8) scale(1,1.070)" font-weight="bold" font-size="61" text-anchor="end">30</text>
<text transform="translate(1252.4,869.5) scale(1,1.070)" font-weight="bold" font-size="61" text-anchor="middle">700</text>
<text transform="translate(1521.9,869.5) scale(1,1.070)" font-weight="bold" font-size="61" text-anchor="middle">750</text>
<text transform="translate(1791.4,869.5) scale(1,1.070)" font-weight="bold" font-size="61" text-anchor="middle">800</text>
<text transform="translate(2060.9,869.5) scale(1,1.070)" font-weight="bold" font-size="61" text-anchor="middle">850</text>
<line x1="1692.4" y1="203.3" x2="1771.2" y2="270.5" stroke="#000" stroke-width="3.5"/><polygon points="1792.5,288.7 1764.8,274.9 1774.5,263.5" fill="#000"/>
<line x1="1918.7" y1="219.1" x2="1815.1" y2="303.3" stroke="#000" stroke-width="3.5"/><polygon points="1793.4,321.0 1811.9,296.3 1821.4,307.9" fill="#000"/>
<line x1="1889.1" y1="435.0" x2="1810.8" y2="358.2" stroke="#000" stroke-width="3.5"/><polygon points="1790.8,338.6 1817.5,354.3 1807.0,365.0" fill="#000"/>
<line x1="1642.6" y1="669.8" x2="1762.8" y2="614.8" stroke="#000" stroke-width="3.5"/><polygon points="1788.3,603.1 1764.1,622.4 1757.9,608.8" fill="#000"/>
<text transform="translate(1575.5,185.0) scale(1,1.070)" font-weight="bold" font-size="61" text-anchor="start">29.07%</text>
<text transform="translate(1936.5,254.0) scale(1,1.070)" font-weight="bold" font-size="61" text-anchor="start">28.68%</text>
<text transform="translate(1871.5,501.0) scale(1,1.070)" font-weight="bold" font-size="61" text-anchor="start">28.45%</text>
<text transform="translate(1462.0,719.0) scale(1,1.070)" font-weight="bold" font-size="61" text-anchor="start">25.36%</text>
<line x1="2276.5" y1="33.9" x2="2276.5" y2="1678.0" stroke="#111" stroke-width="6.8"/>
<line x1="237.4" y1="37.3" x2="2279.9" y2="37.3" stroke="#111" stroke-width="6.8"/>
</svg></body></html>
